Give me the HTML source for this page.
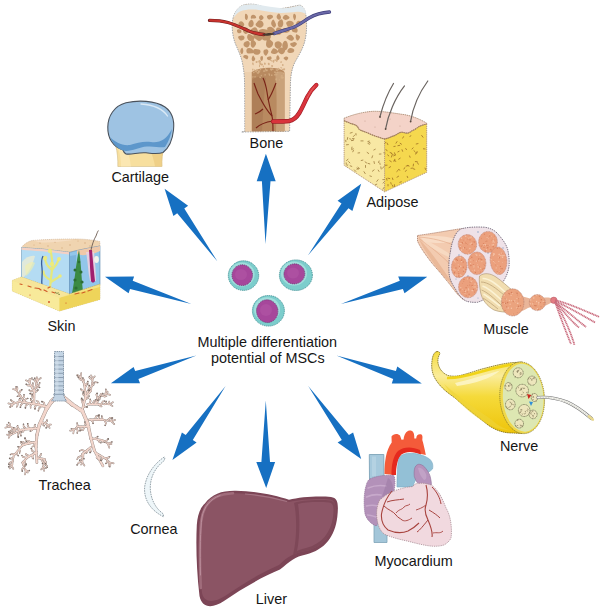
<!DOCTYPE html>
<html><head><meta charset="utf-8"><style>
html,body{margin:0;padding:0;background:#fff;}
svg{display:block;}
text{font-family:"Liberation Sans",sans-serif;font-size:14.4px;fill:#151515;}
</style></head><body>
<svg width="605" height="612" viewBox="0 0 605 612">
<g id="adipose">
<path fill="#f8e8a4" d="M344.1,120.7 C347,122 348.5,122.5 349.9,123.2 C352,124 354.5,124.2 356.5,125.7 C358.5,127 358,129 359.8,129.8 C363,131.5 365.5,132 368.1,133.1 C371,134.5 373.5,135.5 376.3,136.4 C379,137.3 382,138.5 384.6,138.9 C388,138.5 391.5,136.5 394.5,135.6 C397,134.5 399,132.5 401.1,132.3 C403.5,132 405.5,133.5 407.7,133.1 C410,132.5 412,130.5 414.3,129.8 C416.5,128.5 418.5,126.5 421,125.7 C423,125 425,124.3 426.7,124 L384.6,138.9 L384.6,191.8 L344.1,165.3 Z"/>
<path fill="#f5d84e" d="M384.6,138.9 C388,138.5 391.5,136.5 394.5,135.6 C397,134.5 399,132.5 401.1,132.3 C403.5,132 405.5,133.5 407.7,133.1 C410,132.5 412,130.5 414.3,129.8 C416.5,128.5 418.5,126.5 421,125.7 C423,125 425,124.3 426.7,124 L426.7,172.3 L384.6,191.8 Z"/>
<path fill="none" stroke="#a8884a" stroke-width="0.9" stroke-linecap="round" d="M362.9,160.1l-1.7,0.4M365.1,161.9l1.5,1.0M369.9,175.9l1.5,0.5M383.8,187.6l-0.9,1.6M352.5,138.5l1.7,0.2M365.5,165.5l0.0,1.9M363.1,140.9l-2.2,0.0M378.2,170.1l0.8,1.3M375.3,149.2l-1.5,0.8M382.8,179.6l1.5,0.0M381.0,154.0l-1.7,0.1M347.9,164.8l-1.2,1.0M348.4,144.6l-2.0,0.2M349.7,138.8l1.3,0.4M367.1,152.4l1.6,1.1M350.2,165.8l1.6,0.6M353.4,140.3l-2.0,0.2M353.3,148.8l-1.7,0.8M353.4,139.6l-1.2,1.1M348.6,161.6l1.3,1.3M359.7,152.8l-1.7,0.2M352.2,132.5l-2.0,0.6M354.9,134.9l-1.5,1.6M379.8,163.0l0.3,1.4M354.4,169.9l1.4,1.5M368.6,142.0l1.7,1.0M347.7,137.5l-0.4,2.0M369.3,141.1l-1.4,0.4M345.7,140.3l0.2,1.4M352.0,147.1l-0.3,1.4M383.7,166.7l-1.0,1.5M364.0,171.7l1.2,1.9M348.0,159.1l-1.4,1.6M374.1,169.9l-1.7,1.3M358.9,168.6l-2.0,0.6M379.1,161.0l-0.6,1.5M368.0,163.4l1.8,0.5M384.2,181.8l-1.1,1.3M374.0,161.5l0.4,2.0M346.2,162.9l0.1,1.5M372.6,155.8l-0.7,2.0M356.9,168.1l1.2,0.9M380.8,166.9l0.4,2.1M357.9,167.3l1.4,1.0M376.8,184.2l-1.5,0.6M368.0,143.5l1.6,0.7M378.1,179.7l-1.3,1.7M355.9,133.5l0.2,1.5M353.5,150.2l-0.7,1.6M383.8,152.8l1.3,0.3"/><path fill="none" stroke="#a87a28" stroke-width="0.9" stroke-linecap="round" d="M404.7,167.7l-0.7,1.3M385.9,149.4l1.3,1.5M413.5,164.1l-0.3,1.9M391.4,153.6l1.8,1.0M387.9,178.2l1.9,0.4M399.1,151.3l-1.2,0.6M388.0,184.5l-0.0,1.4M390.1,152.5l1.5,0.7M410.7,135.6l-0.8,1.1M392.4,178.0l0.5,1.6M409.6,156.0l0.5,1.3M425.0,168.1l0.7,1.5M413.4,168.8l1.4,0.5M400.2,158.2l-1.5,1.0M386.6,178.5l0.4,1.7M394.5,152.8l0.7,1.9M389.7,160.7l1.6,1.0M387.0,143.0l0.9,1.7M387.6,154.9l1.2,1.0M392.3,185.1l0.6,1.4M385.8,142.4l-1.2,1.1M387.1,165.2l-2.2,0.1M398.6,176.2l-1.6,1.0M394.8,159.3l0.1,1.9M421.7,135.5l1.3,1.7M406.4,170.2l-0.9,1.2M397.0,141.6l-1.0,1.6M390.8,182.6l0.4,1.5M408.2,165.6l-2.1,0.5M416.3,152.1l-0.6,2.0M417.5,162.7l0.8,1.5M415.3,161.6l1.9,0.1M407.2,176.3l0.5,1.3M399.8,145.3l-1.9,0.4M407.4,165.4l1.7,0.7M413.9,150.6l1.2,1.2M398.6,169.5l1.3,0.6M398.2,170.2l-1.4,1.3M423.4,148.8l1.7,0.2M403.5,136.7l-0.8,1.4M395.2,146.3l-1.3,0.2M400.1,143.2l1.4,1.0M394.4,184.7l-0.0,1.9M392.1,155.2l-0.7,1.9M395.6,154.9l-1.8,0.9M394.7,160.0l-1.2,1.1M412.8,168.1l-1.8,0.2M413.1,147.8l-1.1,1.2M405.7,148.5l0.8,1.2M394.6,160.4l1.0,1.0M418.0,143.6l-1.8,0.4M401.3,181.8l-1.5,0.5M390.6,166.7l-1.6,0.9M417.3,151.8l-0.6,1.4M402.0,149.7l0.6,1.6"/>
<path fill="#f4d3c8" stroke="#9a7a5e" stroke-width="0.75" stroke-dasharray="1.3,0.7" d="M344.1,118.2 C352,115 362,112 373,111.3 C384,111 395,113.5 404.4,114.6 C412,116 420,119 426.7,123.2 L426.7,124 C425,124.3 423,125 421,125.7 C418.5,126.5 416.5,128.5 414.3,129.8 C412,130.5 410,132.5 407.7,133.1 C405.5,133.5 403.5,132 401.1,132.3 C399,132.5 397,134.5 394.5,135.6 C391.5,136.5 388,138.5 384.6,138.9 C382,138.5 379,137.3 376.3,136.4 C373.5,135.5 371,134.5 368.1,133.1 C365.5,132 363,131.5 359.8,129.8 C358,129 358.5,127 356.5,125.7 C354.5,124.2 352,124 349.9,123.2 C348.5,122.5 347,122 344.1,120.7 Z"/>
<path fill="none" stroke="#a8876a" stroke-width="0.8" stroke-dasharray="1.3,0.8" d="M344.1,120.5 L344.1,165.3 L384.6,191.8 L426.7,172.3 L426.7,123.2 M384.6,138.9 L384.6,191.8"/>
<path fill="none" stroke="#a27e5a" stroke-width="1.1" stroke-dasharray="1.5,0.6" d="M344.1,120.7 C347,122 348.5,122.5 349.9,123.2 C352,124 354.5,124.2 356.5,125.7 C358.5,127 358,129 359.8,129.8 C363,131.5 365.5,132 368.1,133.1 C371,134.5 373.5,135.5 376.3,136.4 C379,137.3 382,138.5 384.6,138.9 C388,138.5 391.5,136.5 394.5,135.6 C397,134.5 399,132.5 401.1,132.3 C403.5,132 405.5,133.5 407.7,133.1 C410,132.5 412,130.5 414.3,129.8 C416.5,128.5 418.5,126.5 421,125.7 C423,125 425,124.3 426.7,124"/>
<g fill="#c9a598"><circle cx="365" cy="121" r="0.6"/><circle cx="390" cy="119" r="0.6"/><circle cx="400" cy="126" r="0.6"/><circle cx="375" cy="127" r="0.6"/></g>
<g fill="none" stroke="#6a6460" stroke-width="1.2" stroke-linecap="round">
<path d="M380,116.5 C383,105 387,94 393.5,83.5"/>
<path d="M385.6,128.8 C388,115 395,98 404.5,85.9"/>
<path d="M410.6,121.4 C413,107 419,93 427.8,81"/>
</g>
<g fill="#5a4a40"><circle cx="380" cy="117" r="0.9"/><circle cx="385.6" cy="129" r="0.9"/><circle cx="410.6" cy="121.6" r="0.9"/></g>
</g>
<g id="bone">
<path fill="#f1d7b8" stroke="#8c8f96" stroke-width="0.8" stroke-dasharray="1.5,1" d="M241.7,132 L244.8,131.3 C244.8,110 244.8,90 244.5,80 C244.3,74 243.5,68 242,61 C240.5,55 238,50 235.5,44 C233,38 232,30 232.2,24 C232.5,16 236,9 241.7,5.8 C246,3.8 250,3.9 255,4.4 C261,5.8 267,8.5 275,8.8 C284,9 292,6.5 299.5,5.1 C303,5.5 305.5,10 306.3,18 C307,28 306.5,36 304,44 C302,50 298.5,56 295,62 C292,68 290.8,75 290.5,82 C290.2,95 290,110 289.8,120 L289.6,131.3 Z"/>
<path fill="#e1eaef" d="M233.5,18 C235,11 238,7 243,5.2 C248,3.8 253,4 258,4.8 C266,6 274,7.6 282,8.2 C289,8.3 295,6.8 299.5,5.3 C303,6 305,9 306,14 C304,13 301,11.5 297,11.8 C292,12.3 287,13 281,13 C273,12.8 265,11 257,9.8 C251,9.2 245,9.5 240,11.5 C237,13 235,15.5 233.5,18 Z"/>
<!-- shaft shading -->
<path fill="#e9c9a5" opacity="0.6" d="M245,72 L251.7,72 L251.7,131.3 L245,131.3 Z"/>
<g fill="#c0946a"><path d="M245.8,19.7 Q244.9,18.9 244.9,17.6 Q244.9,16.2 245.0,14.9 Q245.1,13.6 245.9,13.8 Q246.7,14.0 247.2,14.7 Q247.7,15.4 247.9,16.6 Q248.0,17.9 247.4,19.2 Q246.7,20.5 245.8,19.7Z"/><path d="M254.8,15.2 Q255.7,15.8 256.1,17.1 Q256.5,18.4 255.0,18.4 Q253.5,18.3 252.1,18.6 Q250.7,18.9 250.8,17.6 Q250.8,16.3 251.5,15.6 Q252.1,14.9 253.0,14.8 Q253.9,14.7 254.8,15.2Z"/><path d="M259.0,17.4 Q259.1,16.3 260.1,15.5 Q261.1,14.7 262.1,15.4 Q263.1,16.1 263.4,16.9 Q263.8,17.6 263.4,18.4 Q263.0,19.3 261.8,19.9 Q260.6,20.4 259.8,19.5 Q258.9,18.5 259.0,17.4Z"/><path d="M269.8,19.4 Q268.5,19.8 267.8,18.8 Q267.1,17.9 266.9,16.8 Q266.7,15.8 267.9,15.2 Q269.2,14.6 270.8,14.8 Q272.5,14.9 272.9,16.1 Q273.4,17.4 272.3,18.1 Q271.2,18.9 269.8,19.4Z"/><path d="M278.3,13.8 Q279.1,13.1 279.6,14.1 Q280.2,15.1 280.8,16.2 Q281.4,17.4 280.7,18.7 Q280.0,20.0 278.9,19.7 Q277.8,19.4 277.0,18.3 Q276.2,17.1 276.8,15.8 Q277.5,14.5 278.3,13.8Z"/><path d="M283.4,19.1 Q282.2,18.0 283.0,16.9 Q283.7,15.8 285.0,15.1 Q286.2,14.4 287.2,15.2 Q288.1,16.0 289.1,16.8 Q290.1,17.6 289.1,18.6 Q288.2,19.5 286.4,19.8 Q284.7,20.2 283.4,19.1Z"/><path d="M293.3,14.9 Q293.6,13.6 294.4,13.8 Q295.2,14.1 295.7,15.0 Q296.1,15.9 296.0,17.0 Q295.8,18.1 295.3,19.5 Q294.8,21.0 294.1,19.7 Q293.5,18.5 293.2,17.3 Q292.9,16.2 293.3,14.9Z"/><path d="M239.3,26.7 Q238.1,25.6 238.4,24.0 Q238.7,22.5 240.0,21.6 Q241.4,20.8 242.5,21.7 Q243.6,22.7 244.1,23.7 Q244.6,24.7 243.9,25.7 Q243.2,26.6 241.8,27.2 Q240.4,27.8 239.3,26.7Z"/><path d="M252.5,26.6 Q251.3,27.5 249.9,27.0 Q248.5,26.5 248.4,24.7 Q248.2,22.8 249.0,21.9 Q249.8,20.9 250.9,20.1 Q251.9,19.4 252.8,20.7 Q253.7,21.9 253.7,23.8 Q253.8,25.6 252.5,26.6Z"/><path d="M255.9,23.6 Q256.8,22.5 258.0,21.0 Q259.2,19.6 261.1,20.6 Q263.0,21.7 263.5,23.5 Q264.0,25.4 262.4,26.7 Q260.8,28.1 258.9,27.5 Q257.0,27.0 256.0,25.8 Q255.1,24.6 255.9,23.6Z"/><path d="M273.1,27.1 Q272.1,26.0 271.5,24.9 Q270.9,23.7 271.3,22.3 Q271.7,20.9 272.5,19.9 Q273.4,19.0 274.1,20.3 Q274.8,21.6 275.7,23.5 Q276.6,25.4 275.4,26.8 Q274.2,28.3 273.1,27.1Z"/><path d="M280.3,27.6 Q278.8,27.8 278.0,25.4 Q277.2,23.1 278.4,21.4 Q279.5,19.7 280.8,19.4 Q282.1,19.0 282.7,20.5 Q283.3,22.1 283.3,23.5 Q283.2,25.0 282.5,26.2 Q281.8,27.5 280.3,27.6Z"/><path d="M293.8,23.3 Q294.0,24.8 292.6,25.5 Q291.2,26.3 289.5,26.7 Q287.9,27.2 287.3,26.0 Q286.7,24.9 286.2,23.8 Q285.8,22.6 287.4,21.5 Q289.1,20.4 291.3,21.1 Q293.6,21.8 293.8,23.3Z"/><path d="M301.1,24.7 Q300.0,25.5 298.5,25.8 Q297.0,26.1 296.4,25.1 Q295.8,24.0 296.1,23.2 Q296.3,22.3 297.2,21.4 Q298.1,20.5 299.8,20.9 Q301.4,21.2 301.8,22.6 Q302.2,23.9 301.1,24.7Z"/><path d="M240.3,33.1 Q239.0,33.4 238.2,32.9 Q237.4,32.4 237.1,31.7 Q236.9,31.0 237.1,30.1 Q237.4,29.3 238.3,29.2 Q239.3,29.1 240.3,29.6 Q241.4,30.1 241.5,31.4 Q241.6,32.8 240.3,33.1Z"/><path d="M247.9,28.8 Q248.3,30.5 248.2,31.7 Q248.0,33.0 247.0,33.6 Q246.0,34.2 245.0,33.7 Q244.0,33.2 243.3,31.9 Q242.5,30.7 243.2,28.9 Q243.9,27.2 245.6,27.2 Q247.4,27.1 247.9,28.8Z"/><path d="M258.2,31.5 Q258.8,33.3 256.7,34.3 Q254.7,35.3 252.6,34.7 Q250.4,34.0 250.1,32.3 Q249.7,30.5 250.9,29.5 Q252.1,28.4 253.8,27.5 Q255.5,26.6 256.5,28.1 Q257.6,29.7 258.2,31.5Z"/><path d="M260.0,33.9 Q257.5,33.8 258.1,32.2 Q258.6,30.6 259.8,29.8 Q261.1,28.9 262.8,28.9 Q264.6,29.0 267.0,29.8 Q269.4,30.6 268.5,32.4 Q267.5,34.3 264.9,34.2 Q262.4,34.1 260.0,33.9Z"/><path d="M270.2,34.6 Q268.7,33.9 268.2,32.7 Q267.7,31.5 267.2,29.3 Q266.7,27.1 269.1,26.9 Q271.5,26.7 273.1,28.0 Q274.7,29.3 275.4,31.4 Q276.1,33.6 273.9,34.4 Q271.8,35.3 270.2,34.6Z"/><path d="M280.1,34.4 Q278.7,35.1 277.1,34.7 Q275.5,34.3 275.6,32.2 Q275.6,30.2 276.4,28.6 Q277.2,27.0 278.6,27.5 Q280.0,27.9 281.8,28.9 Q283.6,29.8 282.5,31.8 Q281.4,33.8 280.1,34.4Z"/><path d="M283.6,32.5 Q281.8,32.3 281.6,30.9 Q281.5,29.5 283.0,28.5 Q284.6,27.6 286.2,28.3 Q287.7,29.0 289.1,29.8 Q290.4,30.6 289.4,31.6 Q288.4,32.6 286.9,32.7 Q285.4,32.8 283.6,32.5Z"/><path d="M293.2,28.1 Q294.2,27.4 295.5,27.6 Q296.8,27.8 297.4,29.0 Q298.0,30.3 297.4,31.7 Q296.8,33.1 295.4,32.6 Q293.9,32.2 292.7,31.7 Q291.5,31.3 291.9,30.1 Q292.3,28.8 293.2,28.1Z"/><path d="M238.2,37.8 Q237.6,36.6 239.1,36.0 Q240.6,35.4 242.1,35.5 Q243.6,35.5 244.2,36.6 Q244.9,37.7 244.3,38.7 Q243.8,39.8 242.4,40.3 Q240.9,40.8 239.8,39.9 Q238.8,39.1 238.2,37.8Z"/><path d="M247.6,35.0 Q248.2,33.4 250.2,34.3 Q252.1,35.2 253.4,36.1 Q254.7,37.0 254.4,38.7 Q254.1,40.3 251.8,40.8 Q249.4,41.2 248.3,39.9 Q247.2,38.6 247.1,37.6 Q247.0,36.6 247.6,35.0Z"/><path d="M263.0,36.7 Q262.8,38.8 261.0,40.2 Q259.1,41.6 257.4,40.3 Q255.7,39.0 254.1,37.8 Q252.6,36.7 253.7,35.0 Q254.7,33.3 256.7,33.6 Q258.7,33.9 260.9,34.2 Q263.2,34.6 263.0,36.7Z"/><path d="M264.5,40.5 Q262.1,40.6 261.9,38.1 Q261.6,35.5 263.6,34.7 Q265.6,33.8 267.2,33.5 Q268.9,33.1 270.1,34.6 Q271.4,36.1 270.7,37.8 Q269.9,39.6 268.4,40.0 Q266.8,40.5 264.5,40.5Z"/><path d="M293.8,37.7 Q294.6,39.0 292.9,40.2 Q291.3,41.3 289.5,40.3 Q287.8,39.3 286.8,38.5 Q285.9,37.7 286.8,36.9 Q287.7,36.1 289.1,35.1 Q290.6,34.2 291.8,35.3 Q293.0,36.4 293.8,37.7Z"/><path d="M297.0,34.5 Q298.0,35.1 299.2,35.7 Q300.4,36.3 299.9,37.8 Q299.3,39.3 298.3,40.2 Q297.3,41.0 296.6,39.9 Q295.9,38.7 295.7,37.8 Q295.6,36.8 295.8,35.4 Q296.0,34.0 297.0,34.5Z"/><path d="M249.7,44.5 Q249.4,45.5 248.5,46.8 Q247.6,48.1 245.9,47.3 Q244.2,46.5 243.7,45.4 Q243.2,44.2 243.9,43.0 Q244.5,41.9 246.5,41.3 Q248.5,40.7 249.3,42.1 Q250.1,43.5 249.7,44.5Z"/><path d="M255.8,44.8 Q255.0,46.3 254.1,47.2 Q253.2,48.0 252.1,47.4 Q251.0,46.8 250.7,45.0 Q250.5,43.3 251.0,41.2 Q251.6,39.1 253.1,39.8 Q254.5,40.6 255.5,41.9 Q256.5,43.2 255.8,44.8Z"/><path d="M266.0,44.3 Q266.2,41.9 267.0,39.6 Q267.9,37.3 269.4,38.8 Q270.8,40.3 272.3,41.5 Q273.8,42.6 272.9,44.7 Q272.0,46.7 270.6,47.6 Q269.2,48.4 267.5,47.6 Q265.8,46.8 266.0,44.3Z"/><path d="M280.9,42.5 Q282.5,43.6 281.7,45.7 Q280.9,47.9 279.1,48.5 Q277.3,49.2 276.0,47.8 Q274.7,46.5 274.6,44.7 Q274.5,42.9 275.7,42.1 Q276.9,41.3 278.1,41.3 Q279.3,41.4 280.9,42.5Z"/><path d="M287.7,47.5 Q287.2,49.9 285.5,50.2 Q283.8,50.5 282.8,48.4 Q281.8,46.4 282.4,44.3 Q282.9,42.3 283.9,41.4 Q284.9,40.5 286.0,41.1 Q287.1,41.6 287.6,43.4 Q288.2,45.2 287.7,47.5Z"/><path d="M296.1,42.7 Q297.4,43.5 296.7,44.4 Q296.0,45.4 294.7,46.5 Q293.4,47.6 292.0,46.6 Q290.6,45.6 290.2,44.6 Q289.7,43.6 290.9,43.1 Q292.1,42.6 293.5,42.2 Q294.9,41.9 296.1,42.7Z"/><path d="M240.4,52.2 Q240.1,50.9 240.5,49.8 Q241.0,48.7 241.7,48.1 Q242.5,47.4 242.9,48.7 Q243.3,49.9 243.3,51.1 Q243.3,52.2 242.8,53.3 Q242.3,54.4 241.5,53.9 Q240.8,53.5 240.4,52.2Z"/><path d="M246.7,49.2 Q247.5,47.8 249.4,48.0 Q251.3,48.3 252.3,49.2 Q253.3,50.1 253.9,51.6 Q254.6,53.2 252.6,53.3 Q250.6,53.4 248.8,53.5 Q247.1,53.6 246.6,52.2 Q246.0,50.7 246.7,49.2Z"/><path d="M253.2,50.4 Q253.9,48.9 255.7,49.1 Q257.4,49.3 258.9,49.6 Q260.4,49.9 260.5,51.3 Q260.6,52.6 259.6,53.8 Q258.6,55.1 256.6,54.8 Q254.6,54.6 253.5,53.3 Q252.5,51.9 253.2,50.4Z"/><path d="M264.3,49.7 Q265.5,49.2 266.4,49.2 Q267.3,49.1 268.0,50.2 Q268.8,51.2 268.2,52.4 Q267.7,53.6 266.8,55.0 Q265.8,56.4 264.7,55.1 Q263.6,53.9 263.4,52.1 Q263.2,50.3 264.3,49.7Z"/><path d="M277.6,50.4 Q278.9,51.4 277.7,52.5 Q276.6,53.7 275.0,53.9 Q273.3,54.2 271.8,53.5 Q270.3,52.7 271.1,51.5 Q271.8,50.4 272.6,49.1 Q273.3,47.9 274.8,48.6 Q276.3,49.4 277.6,50.4Z"/><path d="M283.8,53.3 Q282.6,54.6 280.7,53.9 Q278.9,53.2 278.2,52.0 Q277.6,50.8 278.1,49.6 Q278.6,48.3 280.2,47.7 Q281.9,47.1 283.6,48.0 Q285.2,48.8 285.1,50.4 Q285.1,51.9 283.8,53.3Z"/><path d="M292.0,52.8 Q290.2,53.1 288.6,52.7 Q287.0,52.3 287.4,51.1 Q287.7,49.8 288.4,49.1 Q289.2,48.3 290.5,48.1 Q291.8,48.0 293.2,48.8 Q294.7,49.6 294.2,51.1 Q293.7,52.6 292.0,52.8Z"/><path d="M247.7,58.7 Q247.2,59.6 246.0,58.9 Q244.9,58.3 243.9,57.8 Q243.0,57.4 243.2,56.4 Q243.4,55.5 244.9,55.1 Q246.4,54.6 247.4,55.4 Q248.4,56.2 248.3,57.0 Q248.3,57.8 247.7,58.7Z"/><path d="M251.7,58.4 Q251.9,57.2 252.5,56.2 Q253.0,55.1 253.7,56.1 Q254.3,57.1 254.9,57.9 Q255.6,58.7 255.0,59.7 Q254.4,60.7 253.6,61.2 Q252.8,61.7 252.2,60.7 Q251.6,59.6 251.7,58.4Z"/><path d="M263.0,57.5 Q263.1,58.9 262.6,59.9 Q262.2,60.8 261.6,60.8 Q260.9,60.7 260.6,59.9 Q260.3,59.1 260.3,58.0 Q260.3,57.0 260.8,56.5 Q261.4,55.9 262.2,56.0 Q262.9,56.0 263.0,57.5Z"/><path d="M271.5,58.8 Q271.2,59.6 270.0,60.1 Q268.7,60.5 267.9,59.8 Q267.1,59.1 266.9,58.4 Q266.7,57.7 267.4,57.2 Q268.1,56.6 269.5,56.4 Q270.8,56.1 271.3,57.0 Q271.8,57.9 271.5,58.8Z"/><path d="M279.4,57.6 Q279.9,58.7 279.1,59.4 Q278.3,60.0 277.4,60.5 Q276.5,60.9 276.4,59.5 Q276.2,58.0 276.4,57.0 Q276.6,56.0 277.2,55.4 Q277.9,54.8 278.4,55.6 Q278.9,56.4 279.4,57.6Z"/><path d="M285.8,56.5 Q286.9,56.1 287.7,57.0 Q288.6,57.8 288.1,58.8 Q287.7,59.7 286.8,60.3 Q285.9,60.8 285.2,60.1 Q284.6,59.5 283.9,58.8 Q283.1,58.2 283.9,57.5 Q284.7,56.8 285.8,56.5Z"/></g>
<!-- medullary cavity -->
<path fill="#b88a60" d="M251.7,131.3 L251.7,72 C258,68 266,67 274,68 C279,68.5 283,70 284.5,72 L284.5,131.3 Z"/>
<path fill="#c9a27a" d="M275,72 C279,71 283,71.5 284.5,73 L284.5,131.3 L276,131.3 C277,110 277,90 275,72 Z"/>
<path fill="#a97b55" d="M252,80 C256,76 262,76 266,78 C264,95 263,115 262,131.3 L252,131.3 Z" opacity="0.7"/>
<g fill="#d3ad84"><path d="M259.0,70.9 Q259.0,70.5 259.4,70.4 Q259.8,70.3 260.4,70.6 Q260.9,70.9 260.4,71.3 Q259.9,71.6 259.4,71.5 Q258.9,71.3 259.0,70.9Z"/><path d="M283.2,70.2 Q282.8,69.5 283.0,68.9 Q283.1,68.2 284.2,68.2 Q285.2,68.3 285.2,69.1 Q285.2,70.0 284.4,70.4 Q283.6,70.9 283.2,70.2Z"/><path d="M273.7,62.7 Q273.1,63.1 272.9,62.2 Q272.6,61.3 272.9,60.4 Q273.2,59.6 273.8,59.9 Q274.4,60.2 274.4,61.2 Q274.3,62.3 273.7,62.7Z"/><path d="M281.8,67.4 Q282.3,67.6 282.2,68.0 Q282.1,68.4 281.5,68.5 Q281.0,68.5 280.4,68.1 Q279.9,67.6 280.6,67.3 Q281.4,67.1 281.8,67.4Z"/><path d="M272.1,66.9 Q271.4,66.8 271.1,66.2 Q270.8,65.6 271.4,65.3 Q272.1,64.9 272.7,65.3 Q273.4,65.6 273.1,66.3 Q272.8,67.0 272.1,66.9Z"/><path d="M283.8,72.7 Q284.6,72.8 284.6,73.2 Q284.7,73.7 284.2,73.9 Q283.6,74.2 283.3,73.9 Q282.9,73.6 283.0,73.1 Q283.0,72.7 283.8,72.7Z"/><path d="M279.2,79.3 Q279.5,79.2 279.7,79.5 Q280.0,79.8 279.8,80.3 Q279.6,80.7 279.1,80.6 Q278.6,80.4 278.7,79.9 Q278.9,79.5 279.2,79.3Z"/><path d="M271.8,60.3 Q272.5,60.4 272.8,60.9 Q273.1,61.4 272.3,61.5 Q271.5,61.6 271.1,61.3 Q270.8,61.0 271.0,60.6 Q271.1,60.1 271.8,60.3Z"/><path d="M253.7,64.6 Q253.6,65.6 253.1,65.3 Q252.5,65.0 252.2,64.1 Q251.9,63.2 252.5,62.6 Q253.0,62.0 253.4,62.8 Q253.8,63.6 253.7,64.6Z"/><path d="M265.6,70.5 Q265.6,69.7 266.4,69.3 Q267.2,68.9 267.6,69.6 Q268.0,70.4 267.6,70.9 Q267.1,71.5 266.4,71.3 Q265.6,71.2 265.6,70.5Z"/><path d="M259.0,66.5 Q258.8,65.6 259.2,65.0 Q259.6,64.5 259.9,65.1 Q260.1,65.7 260.1,66.5 Q260.1,67.3 259.6,67.3 Q259.1,67.3 259.0,66.5Z"/><path d="M253.1,72.0 Q253.4,71.4 254.1,71.5 Q254.8,71.6 254.6,72.3 Q254.5,72.9 254.2,73.1 Q253.8,73.3 253.3,73.0 Q252.8,72.7 253.1,72.0Z"/><path d="M283.0,65.9 Q282.4,66.0 282.1,65.4 Q281.8,64.9 282.2,64.3 Q282.6,63.7 283.1,64.1 Q283.7,64.5 283.6,65.2 Q283.6,65.8 283.0,65.9Z"/><path d="M277.0,61.9 Q276.2,62.2 276.0,61.3 Q275.8,60.5 276.2,59.9 Q276.5,59.4 277.1,59.6 Q277.6,59.8 277.6,60.7 Q277.7,61.6 277.0,61.9Z"/><path d="M279.5,69.4 Q279.4,70.2 278.5,70.2 Q277.6,70.2 277.6,69.2 Q277.6,68.2 278.2,67.9 Q278.8,67.6 279.2,68.1 Q279.6,68.6 279.5,69.4Z"/><path d="M269.7,64.6 Q269.5,65.5 268.8,65.2 Q268.0,64.9 267.8,63.9 Q267.7,62.9 268.4,62.7 Q269.2,62.5 269.5,63.1 Q269.8,63.7 269.7,64.6Z"/><path d="M261.3,76.5 Q260.9,76.6 260.7,76.1 Q260.6,75.6 260.9,75.1 Q261.3,74.6 261.6,75.1 Q262.0,75.6 261.8,76.0 Q261.7,76.4 261.3,76.5Z"/><path d="M281.2,78.6 Q280.0,78.2 280.6,77.6 Q281.2,76.9 282.2,76.6 Q283.3,76.4 283.8,77.1 Q284.4,77.9 283.4,78.4 Q282.4,78.9 281.2,78.6Z"/><path d="M259.1,60.2 Q259.6,59.9 259.9,60.7 Q260.1,61.4 259.8,62.2 Q259.5,62.9 259.0,62.5 Q258.5,62.2 258.5,61.3 Q258.6,60.4 259.1,60.2Z"/><path d="M270.6,60.8 Q270.2,61.0 269.9,60.6 Q269.6,60.3 269.9,59.8 Q270.1,59.3 270.7,59.5 Q271.3,59.8 271.2,60.2 Q271.1,60.7 270.6,60.8Z"/><path d="M259.6,76.4 Q260.2,76.3 260.7,76.7 Q261.1,77.1 260.8,77.8 Q260.6,78.5 260.0,78.2 Q259.5,77.8 259.3,77.2 Q259.0,76.5 259.6,76.4Z"/><path d="M282.7,75.6 Q283.3,76.2 282.5,76.6 Q281.8,77.0 281.1,76.8 Q280.5,76.7 280.5,76.1 Q280.6,75.5 281.3,75.2 Q282.0,74.9 282.7,75.6Z"/><path d="M266.1,68.5 Q266.3,69.5 266.0,70.1 Q265.8,70.7 265.4,70.4 Q265.0,70.1 264.7,69.1 Q264.4,68.1 265.2,67.8 Q265.9,67.4 266.1,68.5Z"/><path d="M254.9,70.9 Q254.4,71.1 254.1,70.5 Q253.8,69.9 254.2,69.5 Q254.6,69.1 255.0,69.4 Q255.3,69.6 255.3,70.1 Q255.3,70.6 254.9,70.9Z"/><path d="M255.9,72.2 Q255.4,72.0 255.3,71.2 Q255.2,70.4 255.7,69.9 Q256.2,69.4 256.7,70.1 Q257.2,70.9 256.8,71.7 Q256.4,72.4 255.9,72.2Z"/><path d="M277.4,73.3 Q276.8,73.3 276.8,72.7 Q276.8,72.0 277.3,71.7 Q277.8,71.3 278.2,71.8 Q278.6,72.3 278.3,72.7 Q278.0,73.2 277.4,73.3Z"/><path d="M268.8,74.6 Q268.3,74.4 268.4,73.8 Q268.5,73.2 269.0,73.2 Q269.4,73.3 269.8,73.7 Q270.1,74.1 269.7,74.4 Q269.3,74.8 268.8,74.6Z"/><path d="M260.3,68.6 Q260.8,68.4 261.1,68.9 Q261.4,69.4 261.0,69.7 Q260.6,70.1 260.1,69.9 Q259.5,69.7 259.6,69.3 Q259.7,68.8 260.3,68.6Z"/><path d="M255.8,71.8 Q255.6,72.1 255.3,72.1 Q255.0,72.1 254.9,71.9 Q254.7,71.6 255.0,71.3 Q255.3,71.0 255.6,71.3 Q255.9,71.6 255.8,71.8Z"/><path d="M252.9,76.3 Q253.3,76.1 253.6,76.6 Q253.8,77.1 253.3,77.3 Q252.8,77.6 252.3,77.4 Q251.8,77.1 252.1,76.8 Q252.4,76.4 252.9,76.3Z"/><path d="M278.0,70.3 Q278.0,71.1 277.1,71.1 Q276.2,71.0 275.8,70.6 Q275.3,70.2 275.7,69.6 Q276.2,69.1 277.1,69.3 Q278.0,69.5 278.0,70.3Z"/><path d="M271.7,76.0 Q271.1,75.8 271.0,75.2 Q270.9,74.7 271.3,74.5 Q271.8,74.3 272.2,74.6 Q272.7,74.9 272.5,75.6 Q272.3,76.3 271.7,76.0Z"/><path d="M264.4,74.6 Q264.8,74.2 265.4,74.3 Q265.9,74.5 266.0,74.9 Q266.0,75.3 265.5,75.5 Q265.0,75.7 264.5,75.4 Q264.0,75.0 264.4,74.6Z"/><path d="M255.7,62.5 Q255.2,61.7 255.9,61.3 Q256.6,60.8 257.2,61.0 Q257.8,61.3 257.7,62.0 Q257.6,62.7 256.9,63.0 Q256.2,63.3 255.7,62.5Z"/><path d="M262.4,65.5 Q261.6,65.8 260.9,65.3 Q260.1,64.7 260.8,64.0 Q261.5,63.3 262.3,63.6 Q263.1,64.0 263.1,64.6 Q263.1,65.2 262.4,65.5Z"/><path d="M253.4,69.9 Q253.1,70.4 252.5,70.5 Q252.0,70.5 252.0,69.9 Q252.1,69.2 252.5,68.7 Q252.9,68.2 253.3,68.8 Q253.6,69.4 253.4,69.9Z"/><path d="M270.9,68.2 Q271.8,68.2 272.3,68.9 Q272.8,69.6 272.1,70.3 Q271.5,71.0 270.8,70.5 Q270.0,69.9 270.0,69.1 Q270.0,68.3 270.9,68.2Z"/><path d="M283.2,69.9 Q282.8,70.2 282.2,70.0 Q281.5,69.8 281.7,69.2 Q281.9,68.6 282.5,68.7 Q283.1,68.8 283.3,69.1 Q283.5,69.5 283.2,69.9Z"/><path d="M260.8,62.6 Q261.5,62.6 261.3,63.6 Q261.1,64.5 260.5,64.9 Q259.9,65.2 259.4,64.5 Q258.9,63.8 259.4,63.2 Q260.0,62.7 260.8,62.6Z"/><path d="M254.9,77.4 Q254.3,77.5 254.3,77.0 Q254.4,76.5 254.7,76.2 Q255.0,75.9 255.4,76.2 Q255.9,76.4 255.7,76.9 Q255.5,77.4 254.9,77.4Z"/><path d="M258.6,72.9 Q257.9,72.4 257.8,71.7 Q257.7,71.1 258.4,70.6 Q259.1,70.2 259.5,70.9 Q259.8,71.6 259.6,72.5 Q259.4,73.4 258.6,72.9Z"/><path d="M280.7,61.4 Q281.2,61.2 281.8,61.5 Q282.3,61.8 282.0,62.3 Q281.7,62.8 280.9,62.8 Q280.1,62.7 280.2,62.2 Q280.2,61.6 280.7,61.4Z"/><path d="M275.4,79.7 Q275.2,78.9 275.6,78.4 Q276.1,77.9 276.6,78.2 Q277.2,78.5 277.0,79.5 Q276.9,80.5 276.2,80.6 Q275.6,80.6 275.4,79.7Z"/><path d="M258.8,73.4 Q258.5,73.9 257.8,73.7 Q257.1,73.4 256.6,72.9 Q256.2,72.3 257.1,72.2 Q258.0,72.2 258.6,72.5 Q259.1,72.8 258.8,73.4Z"/><path d="M274.1,71.8 Q274.5,71.1 275.0,71.2 Q275.6,71.2 275.7,71.7 Q275.8,72.2 275.4,72.7 Q275.1,73.3 274.4,72.8 Q273.8,72.4 274.1,71.8Z"/><path d="M269.8,75.7 Q269.3,76.1 269.0,75.5 Q268.8,74.9 268.8,74.4 Q268.9,73.9 269.4,74.0 Q269.9,74.1 270.1,74.7 Q270.4,75.3 269.8,75.7Z"/><path d="M263.1,65.7 Q263.5,65.2 263.8,65.8 Q264.1,66.5 263.9,67.0 Q263.7,67.6 263.3,67.4 Q262.8,67.3 262.7,66.8 Q262.6,66.3 263.1,65.7Z"/><path d="M277.4,75.0 Q277.3,75.5 276.7,75.4 Q276.2,75.2 276.1,74.6 Q276.1,74.0 276.6,73.8 Q277.1,73.6 277.3,74.1 Q277.5,74.5 277.4,75.0Z"/><path d="M265.6,64.6 Q265.1,65.4 264.7,64.9 Q264.2,64.4 264.0,63.7 Q263.8,62.9 264.5,62.6 Q265.2,62.3 265.6,63.1 Q266.1,63.9 265.6,64.6Z"/><path d="M263.0,70.9 Q263.2,70.3 264.0,70.3 Q264.9,70.4 265.5,70.8 Q266.0,71.3 265.2,71.6 Q264.4,72.0 263.6,71.7 Q262.8,71.5 263.0,70.9Z"/><path d="M274.5,60.7 Q274.1,60.1 274.5,59.6 Q274.9,59.2 275.6,59.2 Q276.2,59.3 276.1,59.9 Q276.0,60.5 275.5,60.9 Q274.9,61.2 274.5,60.7Z"/><path d="M273.2,68.4 Q273.7,68.7 273.6,69.3 Q273.6,69.9 272.7,69.8 Q271.7,69.7 271.8,69.2 Q271.8,68.6 272.3,68.3 Q272.7,68.0 273.2,68.4Z"/><path d="M259.8,62.7 Q258.6,62.8 258.4,62.1 Q258.2,61.4 258.7,60.7 Q259.1,60.1 260.1,60.5 Q261.1,60.9 261.1,61.8 Q261.1,62.7 259.8,62.7Z"/><path d="M274.8,74.1 Q275.4,73.9 275.7,74.3 Q276.0,74.8 275.7,75.3 Q275.3,75.7 274.6,75.5 Q273.9,75.2 274.1,74.8 Q274.2,74.4 274.8,74.1Z"/><path d="M256.2,70.3 Q255.8,69.6 256.5,69.2 Q257.1,68.8 257.6,69.1 Q258.2,69.5 258.2,70.3 Q258.1,71.1 257.3,71.1 Q256.6,71.0 256.2,70.3Z"/></g>
<!-- inner vessels -->
<g fill="none" stroke="#7a2418" stroke-width="1.15">
<path d="M273,131 C273,125 273,121 272,116 C270,108 268,100 267,92 C266,86 265,82 263,78"/>
<path d="M272,116 C266,110 262,102 258,94 C256,89 255,86 254,83"/>
<path d="M268,100 C272,94 274,88 276,83"/>
<path d="M273,121 C266,122 260,124 256,128"/>
<path d="M263,109 C260,112 257,113 255,114"/>
</g>
<!-- outer artery -->
<path fill="none" stroke="#9e1e26" stroke-width="4.4" stroke-linecap="round" d="M316.3,85 C312.5,88.5 309.5,92.5 307.3,97 C304.8,102 302.3,108 299.3,113 C296.5,117.5 293.5,120.3 289,121 C283,121.6 278,121.5 273,121.5"/>
<path fill="none" stroke="#d9333c" stroke-width="3.2" stroke-linecap="round" d="M316.3,85 C312.5,88.5 309.5,92.5 307.3,97 C304.8,102 302.3,108 299.3,113 C296.5,117.5 293.5,120.3 289,121 C283,121.6 278,121.5 273,121.5"/>
<path fill="none" stroke="#e8706a" stroke-width="0.8" d="M314.5,86.5 C311.5,90 309,94 307,98.5"/>
<!-- top vessels -->
<path fill="none" stroke="#6e1e1e" stroke-width="3.3" stroke-linecap="round" d="M209.5,20.4 C216,20.5 222,21 228,22.5 C236,25 243,28.5 250,31.5 C256,33.5 260,34.5 264,34.5"/>
<path fill="none" stroke="#c8332e" stroke-width="2.2" stroke-linecap="round" d="M210,20.4 C216,20.5 222,21 228,22.5 C236,25 243,28.5 250,31.5 C256,33.5 260,34.5 264,34.5"/>
<path fill="none" stroke="#3e3e7a" stroke-width="3.3" stroke-linecap="round" d="M274,33.6 C280,31.5 287,29.5 293,27.5 C299,25 304,21 309,18 C315,14.5 322,12.5 329.5,12"/>
<path fill="none" stroke="#6a68a8" stroke-width="2.2" stroke-linecap="round" d="M274,33.6 C280,31.5 287,29.5 293,27.5 C299,25 304,21 309,18 C315,14.5 322,12.5 329.5,12"/>
<path fill="#4a3a30" d="M262,34.5 C266,33 271,32.5 275,33.6 C272,36 266,36.5 262,34.5 Z"/>
</g>
<g id="cartilage">
<path fill="#f7df9e" stroke="#c8b27a" stroke-width="0.5" d="M115.5,145 C117.5,152 118,160 117.8,166.5 L161.8,166.5 C161.5,160 162,153 164.5,146 Z"/>
<path fill="#fbe8b6" d="M118,148 C120,154 121,160 121,166.5 L131,166.5 C130,158 128,152 126,148 Z" opacity="0.8"/>
<path fill="#e9c77a" d="M150,148 C152,155 154,160 155,166.5 L162.4,166.5 C162,160 162.5,153 165,146 Z" opacity="0.6"/>
<path fill="#9ec3e3" stroke="#4a525c" stroke-width="1.1" d="M123,150 C113,147 107.5,138 107.8,127 C108,116 114,106 126,102.8 C138,100 155,100.5 165,107 C172,112 174.5,121 173.5,130 C172.5,140 169,148 163,152.5 C158,154.5 152,153.5 146,152.8 C138,152 132,155 126,154 C124,153 123.5,151.5 123,150 Z"/>
<path fill="#5d97cb" d="M110,137 C114,146 119,150 126,151 C133,151 139,147 147,146.5 C155,146 160,148 165,147 C169,141 171,135 172,129 C166,140 160,143 151,142 C143,141 137,143 130,145 C122,146 115,142 110,137 Z"/>
<path fill="none" stroke="#dbe9f5" stroke-width="1.3" stroke-linecap="round" d="M141,104 C154,105 163,109 167.5,116"/>
</g>
<g id="cells">
<g>
<ellipse cx="243.5" cy="275.6" rx="15.2" ry="14.8" fill="#7ccdcc" stroke="#3f8e94" stroke-width="0.9" stroke-dasharray="1.2,0.8"/>
<ellipse cx="242" cy="274.5" rx="12.6" ry="12" fill="#b0e5e3" opacity="0.7"/>
<ellipse cx="242.2" cy="275.2" rx="10.3" ry="10.4" fill="#a6479b" stroke="#6e2d6c" stroke-width="0.7" stroke-dasharray="1.2,0.8" transform="rotate(-10 242 275)"/>
<ellipse cx="241" cy="274.5" rx="6" ry="5.5" fill="#b45aa8" opacity="0.5"/>
</g>
<g>
<ellipse cx="295.9" cy="275.2" rx="16.5" ry="15.3" fill="#7ccdcc" stroke="#3f8e94" stroke-width="0.9" stroke-dasharray="1.2,0.8"/>
<ellipse cx="294" cy="273.5" rx="13" ry="12" fill="#b0e5e3" opacity="0.7"/>
<ellipse cx="294.4" cy="274" rx="10.5" ry="10" fill="#a6479b" stroke="#6e2d6c" stroke-width="0.7" stroke-dasharray="1.2,0.8" transform="rotate(-15 294 274)"/>
<ellipse cx="293" cy="273" rx="6" ry="5.5" fill="#b45aa8" opacity="0.5"/>
</g>
<g>
<ellipse cx="268.4" cy="310.8" rx="16" ry="15.3" fill="#7ccdcc" stroke="#3f8e94" stroke-width="0.9" stroke-dasharray="1.2,0.8"/>
<ellipse cx="267" cy="309.5" rx="13" ry="12.3" fill="#b0e5e3" opacity="0.7"/>
<ellipse cx="267.2" cy="311.2" rx="10.7" ry="11.4" fill="#a6479b" stroke="#6e2d6c" stroke-width="0.7" stroke-dasharray="1.2,0.8" transform="rotate(-10 267 311)"/>
<ellipse cx="266" cy="310" rx="6" ry="6" fill="#b45aa8" opacity="0.5"/>
</g>
</g>
<g id="cornea">
<path fill="#eef6f9" stroke="#7c8c94" stroke-width="0.8" stroke-dasharray="1.6,0.9" d="M164.3,457 C155,463 146.5,474 144.7,486.6 C143.5,499 150,510 163.6,516.8 L163.2,513.8 C155,508 150.2,498 150.3,487 C150.5,476 156,467 163.4,461.4 C164.6,460 165.3,458 164.3,457 Z"/>
</g>
<g id="heart">
<!-- inferior vena cava -->
<path fill="#a3c6d9" stroke="#7da3b8" stroke-width="0.8" d="M374,520 L387,520 L387,542.5 L374,542.5 Z"/>
<!-- superior vena cava -->
<path fill="#a6c9dc" stroke="#7ea4b9" stroke-width="0.9" d="M369.3,454.5 L383.8,454.5 L384,480 L369.5,480 Z"/>
<path fill="#c2dbe8" d="M372,456.5 L376,456.5 L376,476 L372,476 Z" opacity="0.5"/>
<!-- aorta -->
<path fill="#f45b3a" d="M384.5,474 C384.5,462 386,450 391.7,442.5 L391.5,436.5 C393,433.5 398,433 400,435.5 L401.5,439.8 L403.6,439.5 C404,435 406,431 409.6,430.6 C413,430.5 414.5,433 414.3,438.5 L416.2,438.5 C416.5,435 418,434 420.8,434.3 C423,435 422.5,438 422.3,440 C423.5,444 424.5,448 425.8,455 L416.9,453 C411,450 405,450.5 400,454.4 C396.5,458 395,466 394.6,475 Z"/>
<path fill="#e5291e" d="M391.5,475 C391.5,465 393,456 398,451 C404,446.5 412,446.5 420,450 L421,454.5 C413,451 406,451 401.5,454.5 C397.5,459 396,467 396,475 Z"/>
<!-- pulmonary artery -->
<path fill="#93c0d6" stroke="#7aa9c2" stroke-width="0.6" d="M397,487 C397,478 397.2,467 398.5,460 C400,455 404,453.5 409,453.3 C416,453 424,455 429.5,459 C433,462 433.2,466 432.5,469 C430,472 425,474 420,476 C416,478.5 414,482 413,487 Z"/>
<!-- right atrium -->
<path fill="#b391b9" stroke="#8f6e97" stroke-width="0.7" stroke-dasharray="1.2,0.8" d="M370,479 C375,476 388,474.5 394,475.5 C395.5,480 395,486 394,491 C388,494 382,497 379.5,502 C376.5,510 376.5,518 378,523 L376.5,526 C371,524 367,520 365,514 C363.5,504 364,492 366,486 C367,482 368,480 370,479 Z"/>
<g fill="none" stroke="#cdb0d0" stroke-width="1.6" stroke-linecap="round" opacity="0.8"><path d="M368,488 C373,486 380,485 386,486"/><path d="M366.5,497 C371,495 376,494 381,495"/><path d="M366.5,506 C370,505 374,505 378,506"/><path d="M367.5,515 C370,515 373,516 376,517"/></g>
<path fill="#9a78a2" opacity="0.5" d="M388,478 C392,480 393.5,486 393,491 C389,493 385,495 382,497 C384,491 386,484 388,478 Z"/>
<!-- left auricle -->
<path fill="#b592bb" stroke="#8f6e97" stroke-width="0.6" d="M414.9,467.6 C416,465 418,464 419.5,464.3 C422,464.5 424.5,466.5 426.1,468.9 C428.5,472 430,475 430.3,477 C431,480 431.5,482.5 431.4,484.8 C428,486.5 425,486.6 422.1,486.1 C419.5,485 418,483.5 416.9,482.1 C415,479 414,476 414.2,475.5 C414,472 414.2,469.5 414.9,467.6 Z"/>
<path fill="#c6a9cb" opacity="0.7" d="M418,468 C421,467 424,470 426,474 C427,477 426,480 424,480 C421,477 419,473 418,468 Z"/>
<!-- ventricles -->
<path fill="#f1d9df" stroke="#a88a93" stroke-width="0.8" stroke-dasharray="1.3,0.9" d="M379.8,499.8 C377,505 376,512 377,519 C378,527 381,532 385,534.5 C392,537.5 400,539.5 407.2,541 C415,543 424,545.5 432.5,546.2 C437,546.4 441,546 444.4,544.8 C448,542.5 450.5,540 451.1,537.3 C452,531 451.5,517 446,508 C443,500 440,494 437.7,491.5 C435,488 433,486 431.1,484.9 C427,483.5 423,483 420,483.2 C416,483.5 414,484 413,486.5 C408,487 405,487.5 403,488.2 C398,489.5 395,490.5 393,491.5 C389,493 386,495 384.8,496 Z"/>
<path fill="none" stroke="#a8443f" stroke-width="1.1" d="M392,491 C386,498 383,506 381.5,514 C381,520 383,526 388,530 C395,533 402,533.5 408,531 C412,529 416,526 419,523"/>
<path fill="none" stroke="#a8443f" stroke-width="1" d="M384,506 C388,510 393,511 396,515 C398,518 400,518 402,520"/>
<path fill="none" stroke="#a8443f" stroke-width="1" d="M387,502 C392,500 398,500 404,499"/>
<path fill="none" stroke="#a8443f" stroke-width="1.1" d="M426,485 C428,492 428,498 426,505 C424,510 425,514 428,520 C431,527 433,532 432,537"/>
<path fill="none" stroke="#a8443f" stroke-width="1" d="M428,520 C423,526 420,530 417,532"/>
<path fill="none" stroke="#a8443f" stroke-width="1" d="M432,487 C437,492 440,498 441,504"/>
<path fill="none" stroke="#a8443f" stroke-width="1" d="M429,510 C434,513 437,515 440,518"/>
<path fill="none" stroke="#a8443f" stroke-width="0.9" d="M396,513 C399,509 402,510 404,507 C406,505 408,506 410,504"/>
<path fill="none" stroke="#a8443f" stroke-width="0.9" d="M402,520 C405,522 409,520 412,518"/>
<path fill="none" stroke="#a8443f" stroke-width="0.9" d="M433,533 C437,532 440,534 443,531"/>
<path fill="none" stroke="#a8443f" stroke-width="0.9" d="M426,505 C422,508 419,509 416,510"/>
</g>
<g id="liver">
<path fill="#7c4556" d="M204.9,503.6 C212,494 222,490.5 236,490.8 C255,491 275,495 289,499.8 C300,497 318,495.8 331,497 C338.5,498 338.5,505 337.3,517 C335,536 325,550 306,554.4 C295,556.5 290,561 280,569.6 C262,577 241,589 224,601 C212,609 202,608 199.5,596 C196.5,570 195.8,545 196.8,525 C197.5,515 200,508 204.9,503.6 Z"/>
<path fill="#8b5464" d="M207,505 C214,496 223,493 236,493.2 C255,493.4 274,497 289,502 C300,499.5 318,498.5 330,499.5 C336,500.5 336,507 335,517 C333,534 323,547 306,551 C294,553 288,556 279,565 C262,572 241,585 225,596 C214,603 204,603 202,593 C199,570 199,545 200,527 C200.5,516 202.5,509 207,505 Z"/>
<path fill="#7e4858" d="M294,503 C300,500.5 318,499.5 330,500.5 C336,501.5 336,507 335,517 C333,534 323,547 306,551 C300,552 296,553 293,555 C297,540 297,515 294,503 Z"/>
<path fill="#8c5566" d="M298,504 C305,502 318,501.5 329,502.5 C334,503.5 334,508 333,517 C331,532 322,544 306,548 C302,549 299,550 297,551 C300,537 300,516 298,504 Z"/>
<path fill="none" stroke="#a06c7b" stroke-width="2.6" stroke-linecap="round" d="M200.8,588 C199.5,560 199.8,538 201,522 C202.5,510 207,502 215,497.5 C221,494.5 227,493.5 233,493.3"/>
<path fill="none" stroke="#bb8d9b" stroke-width="1" stroke-linecap="round" d="M200.5,575 C199.8,550 200.3,530 202,517 C204,507 210,499 220,495.5"/>
<path fill="none" stroke="#a57483" stroke-width="1.2" d="M245,494 C260,495 275,498 287,501.5"/>
</g>
<g id="muscle">
<!-- cone -->
<path fill="#f3cbb0" stroke="#a87a66" stroke-width="0.8" stroke-dasharray="1.3,0.7" d="M417.5,235.5 C432,233.5 446,231 458.6,229 C470,228 480,228 488,229 L470,300.5 C466,300.5 464,300 462.8,299.2 C459,296 457.5,294 455.8,292.2 C451,286 448,282 444.7,278.3 C440,272 435,267 430.8,261.7 C425,254 420,247 417.5,241 Z"/>
<path fill="#f8dcc6" d="M419,236 C435,235 448,236 460,240 C450,243 440,244 425,242 Z"/>
<path fill="#e6b090" opacity="0.7" d="M419,239 C432,252 442,268 453,284 C446,281 436,267 428,255 C424,249 421,244 419,239 Z"/>
<path fill="none" stroke="#e2a888" stroke-width="0.8" opacity="0.8" d="M419,237 C432,238 445,241 458,247 M419,238.5 C430,246 442,256 452,266"/>
<path fill="#f8dcc6" opacity="0.8" d="M421,238 C436,245 448,252 458,260 C448,258 436,251 424,242 Z"/>
<!-- cross-section disc -->
<path fill="#efe2e8" stroke="#5e5468" stroke-width="0.8" stroke-dasharray="1.4,0.9" d="M450.4,251.8 C452,240 456,231 461.3,228.8 C468,227 476,226.8 484.3,227.2 C491,228 496,231 499.3,235.6 C503,240 506,244 507.6,249.1 C509,255 509.5,261 509,266.8 C508,272 506.5,276 504.7,279 C500,288 490,298 477.6,302.3 C472,302.5 468,302 465.4,300.7 C461,298 458,294 455.9,289.8 C452,284 449.5,279 449.1,273.6 C448.5,266 449,258 450.4,251.8 Z"/>
<g fill="#8ea6c8"><circle cx="478" cy="232" r="0.8"/><circle cx="459" cy="255" r="0.7"/><circle cx="468" cy="276" r="0.8"/><circle cx="488" cy="253" r="0.7"/><circle cx="490" cy="276" r="0.8"/><circle cx="503" cy="248" r="0.7"/><circle cx="456" cy="279" r="0.6"/><circle cx="478" cy="298" r="0.6"/></g>
<ellipse cx="467.4" cy="244.4" rx="9.2" ry="9.8" fill="#eba07d" stroke="#b87868" stroke-width="0.6" stroke-dasharray="1,0.6" transform="rotate(-10 467.4 244.4)"/><g fill="#f4c2a6"><circle cx="461.2" cy="243.6" r="0.67"/><circle cx="471.5" cy="243.2" r="0.59"/><circle cx="460.1" cy="243.6" r="0.65"/><circle cx="470.0" cy="238.9" r="0.49"/><circle cx="472.1" cy="238.9" r="0.41"/><circle cx="470.0" cy="237.4" r="0.62"/><circle cx="461.5" cy="238.2" r="0.76"/><circle cx="468.3" cy="253.1" r="0.67"/><circle cx="465.7" cy="236.2" r="0.75"/><circle cx="470.5" cy="251.1" r="0.37"/><circle cx="463.5" cy="248.0" r="0.70"/><circle cx="462.0" cy="244.9" r="0.37"/><circle cx="471.3" cy="237.0" r="0.63"/><circle cx="470.2" cy="244.0" r="0.67"/><circle cx="461.5" cy="250.0" r="0.80"/><circle cx="465.7" cy="239.9" r="0.44"/><circle cx="463.8" cy="242.6" r="0.45"/><circle cx="469.9" cy="248.6" r="0.73"/><circle cx="468.3" cy="238.0" r="0.66"/><circle cx="460.6" cy="246.6" r="0.53"/><circle cx="466.7" cy="248.3" r="0.38"/></g><g fill="#d9825f"><circle cx="474.3" cy="242.0" r="0.78"/><circle cx="468.4" cy="251.9" r="0.42"/><circle cx="462.8" cy="243.4" r="0.41"/><circle cx="472.2" cy="244.5" r="0.66"/><circle cx="464.6" cy="247.8" r="0.80"/><circle cx="470.0" cy="239.8" r="0.70"/><circle cx="467.6" cy="244.3" r="0.42"/><circle cx="467.8" cy="239.1" r="0.50"/><circle cx="460.2" cy="239.8" r="0.37"/><circle cx="466.1" cy="243.5" r="0.59"/><circle cx="469.3" cy="251.0" r="0.42"/><circle cx="462.3" cy="242.8" r="0.79"/><circle cx="463.4" cy="240.1" r="0.37"/><circle cx="473.0" cy="241.7" r="0.37"/><circle cx="460.1" cy="248.0" r="0.73"/><circle cx="465.6" cy="242.2" r="0.44"/><circle cx="474.6" cy="246.3" r="0.38"/><circle cx="466.7" cy="249.0" r="0.61"/><circle cx="468.9" cy="237.2" r="0.41"/></g><ellipse cx="488" cy="242" rx="9.4" ry="10.6" fill="#eba07d" stroke="#b87868" stroke-width="0.6" stroke-dasharray="1,0.6" transform="rotate(0 488 242)"/><g fill="#f4c2a6"><circle cx="490.9" cy="236.3" r="0.76"/><circle cx="493.2" cy="240.4" r="0.54"/><circle cx="486.5" cy="249.5" r="0.59"/><circle cx="489.2" cy="235.0" r="0.54"/><circle cx="494.1" cy="242.2" r="0.66"/><circle cx="484.8" cy="233.9" r="0.36"/><circle cx="493.2" cy="241.4" r="0.60"/><circle cx="488.6" cy="238.7" r="0.48"/><circle cx="492.4" cy="242.3" r="0.42"/><circle cx="490.1" cy="248.8" r="0.54"/><circle cx="487.1" cy="237.5" r="0.57"/><circle cx="493.5" cy="244.7" r="0.66"/><circle cx="483.8" cy="244.8" r="0.79"/><circle cx="493.3" cy="238.8" r="0.42"/><circle cx="485.4" cy="244.9" r="0.79"/><circle cx="492.2" cy="245.0" r="0.68"/><circle cx="489.6" cy="245.3" r="0.55"/></g><g fill="#d9825f"><circle cx="489.4" cy="235.9" r="0.56"/><circle cx="487.7" cy="247.7" r="0.79"/><circle cx="485.6" cy="241.4" r="0.46"/><circle cx="484.5" cy="234.2" r="0.65"/><circle cx="494.8" cy="239.9" r="0.45"/><circle cx="484.0" cy="247.3" r="0.66"/><circle cx="492.1" cy="239.2" r="0.42"/><circle cx="485.2" cy="251.0" r="0.73"/><circle cx="481.2" cy="246.1" r="0.71"/><circle cx="493.2" cy="246.8" r="0.79"/><circle cx="481.7" cy="238.2" r="0.38"/><circle cx="488.9" cy="245.8" r="0.56"/><circle cx="482.5" cy="245.6" r="0.39"/><circle cx="490.4" cy="249.2" r="0.65"/><circle cx="491.2" cy="249.9" r="0.64"/><circle cx="481.2" cy="238.8" r="0.36"/><circle cx="494.4" cy="236.0" r="0.58"/><circle cx="490.3" cy="236.1" r="0.60"/><circle cx="484.8" cy="245.5" r="0.46"/><circle cx="486.8" cy="241.1" r="0.69"/><circle cx="483.5" cy="243.6" r="0.68"/><circle cx="486.9" cy="245.4" r="0.60"/><circle cx="491.8" cy="240.3" r="0.35"/></g><ellipse cx="459.2" cy="266.8" rx="7.8" ry="10.8" fill="#eba07d" stroke="#b87868" stroke-width="0.6" stroke-dasharray="1,0.6" transform="rotate(5 459.2 266.8)"/><g fill="#f4c2a6"><circle cx="454.0" cy="269.2" r="0.60"/><circle cx="460.2" cy="257.4" r="0.68"/><circle cx="457.4" cy="261.2" r="0.39"/><circle cx="460.3" cy="275.0" r="0.67"/><circle cx="461.7" cy="261.6" r="0.72"/><circle cx="458.2" cy="264.7" r="0.51"/><circle cx="454.9" cy="261.6" r="0.62"/><circle cx="457.7" cy="275.8" r="0.49"/><circle cx="457.9" cy="274.8" r="0.45"/><circle cx="458.4" cy="270.1" r="0.58"/><circle cx="453.8" cy="268.9" r="0.35"/><circle cx="455.4" cy="262.2" r="0.40"/><circle cx="456.2" cy="271.8" r="0.36"/><circle cx="455.0" cy="269.9" r="0.67"/><circle cx="454.2" cy="260.4" r="0.66"/><circle cx="461.7" cy="275.4" r="0.55"/><circle cx="460.7" cy="266.4" r="0.78"/><circle cx="459.3" cy="268.0" r="0.56"/><circle cx="455.8" cy="275.1" r="0.78"/><circle cx="460.0" cy="258.2" r="0.40"/><circle cx="463.9" cy="270.0" r="0.70"/></g><g fill="#d9825f"><circle cx="461.6" cy="260.3" r="0.63"/><circle cx="459.6" cy="266.6" r="0.63"/><circle cx="457.4" cy="260.5" r="0.69"/><circle cx="456.2" cy="259.2" r="0.78"/><circle cx="463.2" cy="262.0" r="0.64"/><circle cx="458.8" cy="276.0" r="0.74"/><circle cx="465.4" cy="269.3" r="0.59"/><circle cx="463.3" cy="267.3" r="0.68"/><circle cx="454.0" cy="265.1" r="0.47"/><circle cx="458.4" cy="271.8" r="0.43"/><circle cx="454.6" cy="272.6" r="0.61"/><circle cx="454.9" cy="271.7" r="0.39"/><circle cx="454.3" cy="272.8" r="0.65"/><circle cx="461.9" cy="259.4" r="0.47"/><circle cx="458.8" cy="273.7" r="0.66"/><circle cx="456.8" cy="259.3" r="0.66"/><circle cx="463.5" cy="271.2" r="0.61"/><circle cx="456.0" cy="268.0" r="0.79"/><circle cx="460.1" cy="260.7" r="0.36"/></g><ellipse cx="476.9" cy="263.3" rx="9" ry="11.3" fill="#eba07d" stroke="#b87868" stroke-width="0.6" stroke-dasharray="1,0.6" transform="rotate(0 476.9 263.3)"/><g fill="#f4c2a6"><circle cx="480.6" cy="268.3" r="0.66"/><circle cx="472.2" cy="270.3" r="0.37"/><circle cx="478.3" cy="267.0" r="0.70"/><circle cx="478.1" cy="270.3" r="0.39"/><circle cx="470.6" cy="263.6" r="0.57"/><circle cx="474.3" cy="270.6" r="0.49"/><circle cx="479.8" cy="255.2" r="0.67"/><circle cx="480.8" cy="258.2" r="0.43"/><circle cx="477.6" cy="264.7" r="0.45"/><circle cx="476.1" cy="254.5" r="0.65"/><circle cx="474.0" cy="267.3" r="0.59"/><circle cx="474.6" cy="270.1" r="0.66"/><circle cx="474.0" cy="266.1" r="0.73"/><circle cx="479.0" cy="260.8" r="0.53"/><circle cx="481.9" cy="261.6" r="0.56"/><circle cx="478.0" cy="266.7" r="0.40"/><circle cx="477.8" cy="255.0" r="0.41"/><circle cx="470.8" cy="260.1" r="0.69"/><circle cx="482.1" cy="258.0" r="0.46"/><circle cx="476.4" cy="261.2" r="0.65"/><circle cx="476.7" cy="255.5" r="0.58"/><circle cx="479.7" cy="259.6" r="0.40"/></g><g fill="#d9825f"><circle cx="484.0" cy="268.4" r="0.56"/><circle cx="474.1" cy="267.1" r="0.39"/><circle cx="478.7" cy="258.9" r="0.74"/><circle cx="471.8" cy="257.3" r="0.72"/><circle cx="480.5" cy="272.0" r="0.59"/><circle cx="480.5" cy="258.9" r="0.72"/><circle cx="473.3" cy="264.4" r="0.52"/><circle cx="481.7" cy="259.5" r="0.74"/><circle cx="475.0" cy="265.0" r="0.36"/><circle cx="479.3" cy="266.8" r="0.51"/><circle cx="482.5" cy="269.1" r="0.62"/><circle cx="484.0" cy="264.2" r="0.46"/><circle cx="477.3" cy="261.1" r="0.50"/><circle cx="470.9" cy="265.4" r="0.74"/><circle cx="473.4" cy="260.7" r="0.48"/><circle cx="475.4" cy="272.5" r="0.68"/><circle cx="470.2" cy="258.7" r="0.39"/><circle cx="484.6" cy="265.6" r="0.48"/></g><ellipse cx="498.5" cy="260.7" rx="8.3" ry="13.8" fill="#eba07d" stroke="#b87868" stroke-width="0.6" stroke-dasharray="1,0.6" transform="rotate(-5 498.5 260.7)"/><g fill="#f4c2a6"><circle cx="502.5" cy="257.3" r="0.74"/><circle cx="493.3" cy="255.4" r="0.56"/><circle cx="499.1" cy="254.4" r="0.74"/><circle cx="503.0" cy="250.8" r="0.46"/><circle cx="499.2" cy="268.9" r="0.37"/><circle cx="493.4" cy="261.3" r="0.59"/><circle cx="491.1" cy="259.7" r="0.63"/><circle cx="502.0" cy="255.7" r="0.74"/><circle cx="498.8" cy="261.3" r="0.61"/><circle cx="493.7" cy="254.0" r="0.72"/><circle cx="500.3" cy="255.6" r="0.64"/><circle cx="501.5" cy="253.1" r="0.53"/><circle cx="499.2" cy="253.9" r="0.44"/><circle cx="494.2" cy="254.1" r="0.68"/><circle cx="500.5" cy="257.7" r="0.58"/><circle cx="504.3" cy="255.2" r="0.53"/><circle cx="496.2" cy="267.9" r="0.56"/><circle cx="497.8" cy="265.8" r="0.43"/><circle cx="503.2" cy="255.7" r="0.65"/><circle cx="498.3" cy="257.3" r="0.47"/><circle cx="497.4" cy="273.1" r="0.63"/><circle cx="494.3" cy="262.5" r="0.40"/><circle cx="493.9" cy="254.0" r="0.72"/><circle cx="502.4" cy="262.7" r="0.41"/><circle cx="495.1" cy="263.4" r="0.44"/><circle cx="499.4" cy="271.3" r="0.35"/></g><g fill="#d9825f"><circle cx="502.2" cy="253.6" r="0.35"/><circle cx="499.8" cy="257.8" r="0.78"/><circle cx="497.2" cy="271.8" r="0.63"/><circle cx="501.1" cy="268.7" r="0.63"/><circle cx="500.4" cy="266.4" r="0.59"/><circle cx="493.8" cy="260.3" r="0.41"/><circle cx="505.0" cy="260.2" r="0.35"/><circle cx="499.3" cy="272.4" r="0.38"/><circle cx="500.3" cy="271.6" r="0.47"/><circle cx="497.3" cy="248.4" r="0.59"/><circle cx="502.5" cy="268.7" r="0.55"/><circle cx="495.7" cy="264.9" r="0.49"/><circle cx="502.2" cy="268.7" r="0.41"/><circle cx="499.2" cy="248.5" r="0.41"/></g><ellipse cx="468.1" cy="287.1" rx="9.6" ry="10.6" fill="#eba07d" stroke="#b87868" stroke-width="0.6" stroke-dasharray="1,0.6" transform="rotate(0 468.1 287.1)"/><g fill="#f4c2a6"><circle cx="475.0" cy="284.1" r="0.78"/><circle cx="474.1" cy="287.0" r="0.67"/><circle cx="465.0" cy="293.6" r="0.51"/><circle cx="472.2" cy="290.6" r="0.79"/><circle cx="468.4" cy="288.9" r="0.61"/><circle cx="465.5" cy="291.3" r="0.76"/><circle cx="476.6" cy="288.8" r="0.60"/><circle cx="462.7" cy="289.3" r="0.49"/><circle cx="472.2" cy="286.1" r="0.65"/><circle cx="475.7" cy="286.9" r="0.55"/><circle cx="470.3" cy="278.8" r="0.48"/><circle cx="469.9" cy="296.4" r="0.69"/><circle cx="466.1" cy="290.0" r="0.45"/><circle cx="471.0" cy="281.4" r="0.80"/><circle cx="472.3" cy="280.8" r="0.38"/><circle cx="468.7" cy="289.9" r="0.66"/><circle cx="460.8" cy="287.6" r="0.65"/><circle cx="467.4" cy="278.9" r="0.65"/></g><g fill="#d9825f"><circle cx="464.7" cy="292.5" r="0.48"/><circle cx="466.2" cy="295.8" r="0.63"/><circle cx="462.3" cy="283.3" r="0.38"/><circle cx="466.1" cy="287.7" r="0.72"/><circle cx="469.1" cy="294.2" r="0.74"/><circle cx="460.3" cy="289.8" r="0.61"/><circle cx="464.6" cy="290.3" r="0.54"/><circle cx="463.0" cy="292.2" r="0.43"/><circle cx="464.0" cy="279.4" r="0.69"/><circle cx="469.5" cy="278.0" r="0.73"/><circle cx="474.6" cy="292.1" r="0.51"/><circle cx="463.8" cy="278.8" r="0.38"/><circle cx="472.5" cy="278.9" r="0.69"/><circle cx="471.3" cy="286.0" r="0.43"/><circle cx="475.0" cy="290.8" r="0.39"/><circle cx="467.2" cy="291.9" r="0.58"/><circle cx="473.5" cy="289.4" r="0.70"/><circle cx="467.7" cy="285.6" r="0.48"/><circle cx="463.8" cy="281.2" r="0.48"/><circle cx="469.7" cy="285.0" r="0.59"/><circle cx="470.1" cy="282.1" r="0.71"/><circle cx="472.2" cy="285.6" r="0.74"/></g>
<!-- tube bundle -->
<path fill="#f1ddb0" stroke="#a88e68" stroke-width="0.6" d="M479.5,276 C484,272.5 490,273 496,277 C502,281 507,286 512,290 L513,312 C506,312.5 499,312 494,310 C487,306 482,300 480.5,292 C479.5,286 479,280 479.5,276 Z"/>
<path fill="none" stroke="#b89c70" stroke-width="0.7" d="M481,282 C488,282 496,288 505,296 M481.5,290 C487,292 494,298 502,306 M483,298 C488,301 493,305 498,309"/>
<path fill="none" stroke="#fbf2d4" stroke-width="1.6" d="M482.5,278.5 C489,278 496,283.5 505,292 M482.5,286 C489,288 495,294 503,301.5 M483.5,294 C488.5,297 494,301.5 500,306"/>
<!-- necks -->
<path fill="#e9b599" d="M520,296 C525,297 529,298 531,299 L531,307 C527,308 523,311 518,313 Z"/>
<path fill="#e9b599" d="M543,298 C547,297 550,298 553,298.5 L553,302 C550,303 547,305 543,307 Z"/>
<ellipse cx="512.6" cy="302.4" rx="11.3" ry="13.6" fill="#eba37e" stroke="#a8746a" stroke-width="0.6" stroke-dasharray="1,0.7"/><g fill="#f6c6aa"><circle cx="516.7" cy="307.8" r="0.55"/><circle cx="511.3" cy="295.5" r="0.49"/><circle cx="516.9" cy="298.5" r="0.56"/><circle cx="508.2" cy="308.0" r="0.74"/><circle cx="512.2" cy="293.6" r="0.52"/><circle cx="505.0" cy="303.5" r="0.63"/><circle cx="512.9" cy="314.1" r="0.41"/><circle cx="506.2" cy="307.8" r="0.36"/><circle cx="520.4" cy="296.6" r="0.36"/><circle cx="520.1" cy="297.2" r="0.46"/><circle cx="510.8" cy="295.3" r="0.41"/><circle cx="511.4" cy="308.3" r="0.68"/><circle cx="519.8" cy="307.6" r="0.44"/><circle cx="504.2" cy="295.2" r="0.67"/><circle cx="515.6" cy="302.7" r="0.37"/><circle cx="517.8" cy="303.2" r="0.79"/><circle cx="506.9" cy="292.9" r="0.42"/><circle cx="504.8" cy="299.3" r="0.77"/><circle cx="511.3" cy="300.7" r="0.59"/><circle cx="510.1" cy="304.2" r="0.62"/><circle cx="517.4" cy="303.4" r="0.51"/><circle cx="506.2" cy="299.1" r="0.64"/><circle cx="514.8" cy="300.8" r="0.64"/><circle cx="509.4" cy="300.5" r="0.67"/></g><g fill="#d47f5c"><circle cx="517.1" cy="293.2" r="0.76"/><circle cx="506.7" cy="306.9" r="0.71"/><circle cx="509.5" cy="293.9" r="0.56"/><circle cx="517.2" cy="312.7" r="0.38"/><circle cx="511.5" cy="292.5" r="0.76"/><circle cx="517.7" cy="295.0" r="0.45"/><circle cx="502.9" cy="302.6" r="0.74"/><circle cx="518.5" cy="306.3" r="0.79"/><circle cx="518.8" cy="301.0" r="0.43"/><circle cx="516.0" cy="292.1" r="0.37"/><circle cx="517.7" cy="308.5" r="0.42"/><circle cx="505.2" cy="302.0" r="0.39"/><circle cx="505.0" cy="310.3" r="0.59"/><circle cx="505.6" cy="303.4" r="0.67"/><circle cx="505.0" cy="298.9" r="0.73"/><circle cx="513.2" cy="301.6" r="0.57"/><circle cx="518.6" cy="298.7" r="0.54"/><circle cx="513.5" cy="313.9" r="0.47"/><circle cx="508.8" cy="293.3" r="0.63"/><circle cx="507.6" cy="302.6" r="0.78"/><circle cx="520.5" cy="305.8" r="0.71"/></g><ellipse cx="537.3" cy="302.6" rx="8" ry="8" fill="#eba37e" stroke="#a8746a" stroke-width="0.6" stroke-dasharray="1,0.7"/><g fill="#f6c6aa"><circle cx="530.7" cy="299.9" r="0.70"/><circle cx="538.3" cy="302.2" r="0.45"/><circle cx="530.2" cy="303.7" r="0.69"/><circle cx="533.8" cy="298.1" r="0.73"/><circle cx="532.6" cy="303.9" r="0.57"/><circle cx="538.7" cy="303.7" r="0.38"/><circle cx="537.4" cy="308.8" r="0.70"/><circle cx="540.8" cy="302.4" r="0.36"/><circle cx="536.7" cy="295.3" r="0.50"/><circle cx="543.2" cy="301.6" r="0.70"/><circle cx="536.1" cy="309.3" r="0.53"/><circle cx="536.6" cy="301.5" r="0.65"/><circle cx="538.8" cy="304.8" r="0.43"/><circle cx="538.8" cy="302.7" r="0.62"/></g><g fill="#d47f5c"><circle cx="534.7" cy="305.6" r="0.63"/><circle cx="533.8" cy="302.3" r="0.41"/><circle cx="540.3" cy="297.9" r="0.40"/><circle cx="538.2" cy="309.4" r="0.65"/><circle cx="540.6" cy="302.6" r="0.57"/><circle cx="541.3" cy="299.7" r="0.75"/><circle cx="535.9" cy="305.8" r="0.75"/><circle cx="544.1" cy="302.7" r="0.65"/><circle cx="539.3" cy="296.6" r="0.50"/><circle cx="541.0" cy="306.8" r="0.51"/><circle cx="543.8" cy="304.6" r="0.44"/></g>
<circle cx="553.8" cy="300.3" r="3.2" fill="#e27b82" stroke="#b55a66" stroke-width="0.5"/>
<!-- fibrils -->
<g fill="none" stroke="#c96a7c" stroke-width="1.8" stroke-dasharray="1.2,0.5">
<path d="M555,300 C570,304 585,311 599.5,317"/>
<path d="M555,301 C568,307 582,315 595,322.5"/>
<path d="M555,302 C566,310 577,320 586,327"/>
<path d="M555,302 C564,312 572,322 579,327.5"/>
<path d="M555,302 C563,315 570,330 574.5,345"/>
<path d="M555,302 C560,316 566,332 571,344"/>
</g>
</g>
<g id="nerve">
<defs>
<linearGradient id="ngrad" x1="0" y1="0" x2="0" y2="1">
<stop offset="0" stop-color="#f5dc40"/><stop offset="0.3" stop-color="#faec9a"/><stop offset="0.55" stop-color="#f5da3a"/><stop offset="1" stop-color="#eec40a"/>
</linearGradient>
</defs>
<path fill="url(#ngrad)" stroke="#7a6a18" stroke-width="0.8" stroke-dasharray="1.6,0.6" d="M437,351.5 C434,352 432.5,356 432,361 C431,368 432.5,375 436,380 C441,388 448,393 455,398 C464,406 474,414 488,425 C495,430 503,433 512.3,433 L522,433.5 L522,362 L510.3,362.8 C500,364 490,367 480,369.5 C474,371.5 468,373.5 462,375 C457,376.5 452,376.5 448,375.5 C443,373.5 439,369 438,363 C437.5,359 438.5,356 440,353.5 C439.5,352 438.5,351.3 437,351.5 Z"/>
<path fill="none" stroke="#f0d20a" stroke-width="2.6" opacity="0.9" d="M447,378 C458,378.5 470,375 482,371.5 C492,368.5 502,366 512,364.5"/>
<path fill="#fdf6cf" opacity="0.8" d="M455,383 C468,380 484,375 500,370.5 C492,378 474,384 457,386 Z"/>
<path fill="#efd33a" opacity="0.6" d="M444,384 C455,394 470,405 492,420 C496,424 502,428 510,430 C498,430 488,425 478,418 C464,408 452,396 444,384 Z"/>
<ellipse cx="522.2" cy="397.8" rx="22.3" ry="35.9" fill="#f0d84a" stroke="#70682a" stroke-width="0.7" stroke-dasharray="1.3,0.8" transform="rotate(-4 522 398)"/>
<ellipse cx="523.2" cy="397.8" rx="20.3" ry="34" fill="#dde7b2" transform="rotate(-4 522 398)"/>
<ellipse cx="518.2" cy="372.8" rx="5" ry="5" fill="#ede6bc" stroke="#55543a" stroke-width="0.65" stroke-dasharray="1.1,0.5"/><path d="M515.3,376.0q0.7,1.0 -0.6,1.5M519.9,375.2q-0.0,-1.2 1.3,-0.9M516.8,371.8q-0.2,-1.2 1.2,-1.1M521.5,373.9q-1.2,-0.3 -0.5,-1.5M517.4,372.1q-0.2,-1.2 1.2,-1.1M517.7,373.0q-0.8,-0.9 0.4,-1.6M519.1,369.6q0.1,1.2 -1.2,1.0M519.6,373.3q0.6,-1.0 1.6,-0.0" fill="none" stroke="#7a7050" stroke-width="0.6"/><ellipse cx="532.1" cy="380.7" rx="4.4" ry="4.6" fill="#ede6bc" stroke="#55543a" stroke-width="0.65" stroke-dasharray="1.1,0.5"/><path d="M529.3,379.0q-1.2,-0.0 -0.8,-1.4M533.6,378.7q0.1,-1.2 1.4,-0.7M531.5,379.4q0.6,-1.1 1.6,-0.1M529.7,383.5q-0.4,1.1 -1.6,0.3M531.3,378.8q-1.2,0.2 -1.1,-1.1M534.2,378.9q-1.1,-0.4 -0.4,-1.6M531.7,379.4q0.8,0.9 -0.4,1.6" fill="none" stroke="#7a7050" stroke-width="0.6"/><ellipse cx="508.5" cy="386.7" rx="3.6" ry="4.2" fill="#ede6bc" stroke="#55543a" stroke-width="0.65" stroke-dasharray="1.1,0.5"/><path d="M509.5,386.2q-1.2,0.2 -1.1,-1.2M509.0,384.4q0.5,-1.1 1.6,-0.2M510.5,385.3q0.5,-1.1 1.6,-0.3M509.5,385.5q-0.1,1.2 -1.4,0.7M506.4,386.2q-1.1,0.4 -1.2,-1.0" fill="none" stroke="#7a7050" stroke-width="0.6"/><ellipse cx="522.2" cy="390.6" rx="6.3" ry="6.3" fill="#ede6bc" stroke="#55543a" stroke-width="0.65" stroke-dasharray="1.1,0.5"/><path d="M522.1,390.4q-1.1,-0.4 -0.4,-1.5M518.9,388.2q-1.1,-0.4 -0.3,-1.6M522.0,387.7q-0.2,1.2 -1.5,0.6M526.4,393.2q-0.2,-1.2 1.2,-1.1M520.9,389.9q-0.3,-1.2 1.0,-1.2M522.7,391.8q1.2,0.3 0.5,1.5M524.1,388.0q-0.6,1.1 -1.6,0.1M522.5,394.6q-1.0,0.7 -1.5,-0.6M523.5,388.0q1.1,-0.4 1.3,0.9M520.0,391.0q-0.5,-1.1 0.9,-1.4" fill="none" stroke="#7a7050" stroke-width="0.6"/><ellipse cx="510.3" cy="404.5" rx="4.8" ry="5.3" fill="#ede6bc" stroke="#55543a" stroke-width="0.65" stroke-dasharray="1.1,0.5"/><path d="M511.6,404.1q-0.7,-1.0 0.6,-1.5M507.0,408.1q-1.1,-0.4 -0.3,-1.6M510.9,402.7q-1.2,0.2 -1.0,-1.2M511.3,403.9q0.9,0.8 -0.3,1.6M508.3,407.3q0.3,1.2 -1.1,1.2M510.4,406.1q0.2,1.2 -1.2,1.1M512.4,404.3q1.1,-0.4 1.3,1.0" fill="none" stroke="#7a7050" stroke-width="0.6"/><ellipse cx="524.2" cy="410.5" rx="5.8" ry="6" fill="#ede6bc" stroke="#55543a" stroke-width="0.65" stroke-dasharray="1.1,0.5"/><path d="M521.8,409.9q-0.8,0.9 -1.6,-0.2M522.4,409.9q-1.1,0.5 -1.4,-0.8M523.3,413.6q-0.5,1.1 -1.6,0.2M520.6,412.6q-1.1,0.5 -1.3,-0.9M520.3,412.6q-0.2,-1.2 1.2,-1.1M525.5,413.2q-0.1,1.2 -1.4,0.7M527.0,409.4q0.8,-0.9 1.6,0.2M528.2,411.0q-1.1,0.6 -1.4,-0.8M526.1,412.3q-1.2,-0.0 -0.8,-1.4" fill="none" stroke="#7a7050" stroke-width="0.6"/><ellipse cx="533.1" cy="414.4" rx="4" ry="4.3" fill="#ede6bc" stroke="#55543a" stroke-width="0.65" stroke-dasharray="1.1,0.5"/><path d="M530.8,413.5q-0.5,-1.1 0.9,-1.4M530.4,413.9q1.0,-0.6 1.4,0.7M534.3,413.0q0.8,0.9 -0.4,1.5M533.5,415.1q-0.3,1.2 -1.5,0.5M533.2,417.4q-0.7,-1.0 0.6,-1.5M533.3,411.8q-1.2,0.2 -1.1,-1.2" fill="none" stroke="#7a7050" stroke-width="0.6"/><ellipse cx="519.2" cy="423.6" rx="4.3" ry="4.4" fill="#ede6bc" stroke="#55543a" stroke-width="0.65" stroke-dasharray="1.1,0.5"/><path d="M516.3,426.5q-1.2,-0.1 -0.7,-1.4M519.8,424.7q1.2,0.3 0.5,1.5M521.1,424.8q1.1,0.5 0.2,1.6M521.7,425.9q1.2,-0.1 1.0,1.3M516.7,426.2q0.2,-1.2 1.5,-0.6M517.7,421.0q-0.5,-1.1 0.8,-1.4" fill="none" stroke="#7a7050" stroke-width="0.6"/><ellipse cx="534.5" cy="397.5" rx="3.2" ry="4" fill="#ede6bc" stroke="#55543a" stroke-width="0.65" stroke-dasharray="1.1,0.5"/><path d="M532.5,397.8q0.4,-1.1 1.6,-0.4M534.0,396.6q-1.0,0.6 -1.4,-0.7M532.8,395.0q-1.1,-0.5 -0.3,-1.6M535.9,400.3q1.0,0.7 -0.1,1.6M533.6,399.3q-0.3,1.2 -1.5,0.5" fill="none" stroke="#7a7050" stroke-width="0.6"/>
<path fill="#c8281e" d="M527,394 L531.5,395 L528.5,399 Z"/>
<path fill="#2f8fd8" d="M529,401.5 L533,402 L531,406 Z"/>
<!-- cable -->
<path fill="none" stroke="#6f6f70" stroke-width="3.2" stroke-linecap="round" d="M538,397.5 C548,396.5 558,398.5 567,402 C576,406 584,412 591.5,418.5"/>
<path fill="none" stroke="#f0f0ea" stroke-width="2.2" stroke-linecap="round" d="M538,397.5 C548,396.5 558,398.5 567,402 C576,406 584,412 591.5,418.5"/>
<path fill="none" stroke="#b8b8b0" stroke-width="0.6" stroke-dasharray="1.2,1.5" d="M540,397.5 C548,396.8 558,398.8 567,402.3 C576,406.3 584,412.3 590,417.5"/>
<path fill="none" stroke="#e8d890" stroke-width="2.6" stroke-linecap="round" d="M589,416.5 L592.8,419.6"/>
</g>
<g id="skin">
<!-- top surface -->
<path fill="#f0d4b0" stroke="#c9a98a" stroke-width="0.6" stroke-dasharray="1.2,0.8" d="M21.5,247.5 C24,244 28,241.5 32,240.5 C45,239.5 60,239 75,239 C85,239 93,240 99.8,241.5 L100,246 C92,247.5 84,249 77,250.5 C74,251.2 72,251.8 69.5,252.3 C60,251 50,250 42,249 C35,248.5 27,248 21.5,247.5 Z"/>
<g fill="#d9ae80" opacity="0.9"><circle cx="40" cy="243" r="0.8"/><circle cx="55" cy="242" r="0.8"/><circle cx="70" cy="245" r="0.8"/><circle cx="85" cy="243" r="0.8"/><circle cx="62" cy="248" r="0.7"/><circle cx="90" cy="246" r="0.7"/><circle cx="48" cy="246" r="0.7"/><circle cx="34" cy="245" r="0.6"/><circle cx="78" cy="241" r="0.6"/></g>
<path fill="#f6e0c8" opacity="0.8" d="M33,240.5 C45,240 60,239.5 75,239.5 C70,241 55,242.5 40,242.5 Z"/>
<!-- left blue face -->
<path fill="#b4dcf3" stroke="#6f9ab8" stroke-width="0.6" d="M21.5,247.5 C27,248 35,248.5 42,249 C50,250 60,251 69.5,252.3 L69.5,294.5 L21.5,278 Z"/>
<path fill="#f2eed0" opacity="0.7" d="M22,262 C26,257 31,255 35,256 C33,264 29,272 24,277 L22,277 Z"/>
<path fill="#f4f0a8" opacity="0.6" d="M25,266 C29,262 33,261 35,263 C33,268 30,273 26,276 Z"/>
<path fill="#f3d0c4" d="M21.5,247.5 C27,248 35,248.5 42,249 C50,250 60,251 69.5,252.3 L69.5,254.5 C60,253.2 50,252.2 42,251.2 C35,250.7 27,250.2 21.5,249.7 Z"/>
<!-- yellow nerve branches -->
<g fill="none" stroke="#ecea70" stroke-width="2.2" stroke-linecap="round" opacity="0.9">
<path d="M50,292 C50,285 51,278 52,270 C53,263 52,258 51,253"/>
<path d="M52,270 C47,266 45,262 45,258 M52,270 C56,266 58,262 59,259 M51,280 C46,278 44,275 43,272 M51,282 C55,279 58,278 60,276"/>
</g>
<g fill="#efec7a" opacity="0.9"><circle cx="45" cy="258" r="2.3"/><circle cx="59" cy="259" r="2"/><circle cx="43" cy="272" r="1.8"/><circle cx="60" cy="276" r="1.8"/><circle cx="52" cy="264" r="2.2"/><circle cx="50" cy="251" r="2.2"/></g>
<!-- dark blue vessel -->
<path fill="none" stroke="#3a5f9a" stroke-width="1.3" d="M42,285 C41,280 43,275 42,268 C41,262 42,258 43,256"/>
<path fill="none" stroke="#5a2a6a" stroke-width="0.9" d="M42,285 C39,288 37,291 36,292"/>
<!-- right blue face -->
<path fill="#92c6ea" stroke="#5f8ab0" stroke-width="0.6" d="M69.5,252.3 C72,251.8 74,251.2 77,250.5 C84,249 92,247.5 100,246 L100,284.5 L69.5,294.5 Z"/>
<path fill="#6ea8d4" d="M69.5,256 L76,255 L76,293 L69.5,294.5 Z" opacity="0.6"/>
<path fill="#f0c8a8" d="M77,250.5 C84,249 92,247.5 100,246 L100,251 C95,253 92,255 88,254 C84,256 80,255 77,254 Z"/>
<!-- green tree -->
<path fill="#3b8a44" d="M79,250 C80,256 81,266 81.5,275 C82,282 82.5,288 83,291 L72,293.5 C73,288 74,282 75,275 C76,266 77.5,256 79,250 Z"/>
<g fill="#2c6e34"><circle cx="75" cy="270" r="1.5"/><circle cx="81" cy="272" r="1.5"/><circle cx="75" cy="280" r="1.6"/><circle cx="82" cy="282" r="1.6"/><circle cx="76" cy="288" r="1.6"/><circle cx="79" cy="262" r="1.3"/></g>
<!-- hair follicle -->
<path fill="#ecd0e0" d="M86,252 C88,262 88,272 90,281 L96,281 C96,272 95,262 94,252 Z" opacity="0.9"/>
<path fill="#a01f6e" d="M89,250 C90,262 90,272 91,281 C92,283 94,283 95,281 C94,272 93,262 92,250 Z"/>
<ellipse cx="96.5" cy="259.5" rx="2.4" ry="3.4" fill="#f4f2ea"/>
<path fill="none" stroke="#6b5a50" stroke-width="0.9" d="M91,250 C92,245 94,239 96,236 C97,233 98,231 98.4,230.5"/>
<!-- base slab -->
<path fill="#f5e383" stroke="#c2a850" stroke-width="0.6" stroke-dasharray="1.2,0.8" d="M12.4,280.4 L21.5,277 L69.5,294 L100,284 L100,299.4 L59.5,311 L12.4,291.1 Z"/>
<path fill="#f8ea9a" d="M12.4,280.4 L59.5,297.7 L59.5,311 L12.4,291.1 Z"/>
<path fill="#eed45a" d="M59.5,297.7 L100,287 L100,299.4 L59.5,311 Z"/>
<path fill="#f6e59a" d="M12.4,280.4 L21.5,277 L69.5,294 L59.5,297.7 Z"/>
<g fill="none" stroke="#d05a28" stroke-width="1.2" stroke-linecap="round">
<path d="M28,286 l3,1 M35,288 l4,0.5 l2,1.5 M44,290 l3,1.5 M20,284 l2,0.5 M48,288 l2,-1 M52,292 l3,1 M75,294 l4,-1 M82,293 l3,-1 M88,291 l4,-1.5"/>
</g>
<g fill="#d04a20"><circle cx="49" cy="302" r="0.9"/><circle cx="30" cy="295" r="0.6"/><circle cx="66" cy="303" r="0.6"/></g>
<g fill="none" stroke="#6a7a3a" stroke-width="0.8"><path d="M55,292 l2,1.5 l1.5,-1 M58,294 l2,0.5"/></g>
</g>
<g id="trachea">
<g fill="none" stroke="#9a8c86" stroke-linecap="round" stroke-dasharray="0.9,0.6"><path d="M54.0,399.0L51.4,401.7M63.6,397.4L72.1,404.3" stroke-width="4.3"/><path d="M51.4,401.7L46.3,409.4M72.1,404.3L82.4,411.1" stroke-width="4.0"/><path d="M46.3,409.4L39.4,424.9M82.4,411.1L87.6,423.1" stroke-width="3.7"/><path d="M39.4,424.9L36.9,435.1M87.6,423.1L91.0,438.6" stroke-width="3.3"/><path d="M36.9,435.1L36.0,447.1M91.0,438.6L94.4,450.6" stroke-width="3.0"/><path d="M36.0,447.1L36.9,462.6M37.5,428.3L28.0,429.0M94.4,450.6L103.0,466.0" stroke-width="2.7"/><path d="M46.3,406.9L38.0,404.5" stroke-width="2.8"/><path d="M38.0,404.5L30.9,403.4M82.4,409.4L85.9,395.7" stroke-width="2.5"/><path d="M30.9,403.4L18.9,401.7M36.9,458.0L44.6,459.1M85.9,395.7L84.1,383.7M85.0,398.0L91.0,390.6M89.3,426.6L77.3,426.6M92.7,438.6L103.0,440.3M96.0,453.0L106.4,459.1" stroke-width="2.1"/><path d="M18.9,401.7L12.0,404.3M44.9,406.5L44.0,402.6M42.1,405.7L38.9,408.5M39.4,404.9L38.2,401.7M36.8,404.3L34.7,407.6M34.5,403.9L33.1,402.5M32.1,403.6L30.5,405.8M29.4,403.2L25.7,405.6M26.4,402.8L24.2,400.7M23.4,402.3L20.8,405.1M20.4,401.9L19.4,399.7M17.8,402.1L17.6,405.0M15.4,403.0L11.8,401.2M13.1,403.9L11.8,406.1M34.0,402.3L30.9,400.0M34.1,399.0L32.0,396.5M34.2,395.6L32.3,393.6M34.3,392.3L36.5,391.4M34.7,389.3L37.8,387.0M35.6,386.7L39.3,384.4M36.4,384.2L35.1,380.6M37.3,381.6L36.2,378.9M33.6,390.8L30.5,391.0M32.4,388.2L33.2,385.4M31.1,385.8L27.8,385.4M29.8,383.2L30.4,379.3M35.9,428.4L34.5,426.1M32.8,428.6L31.7,430.4M29.6,428.9L27.7,425.8M26.8,429.2L23.6,426.6M24.3,429.5L23.1,431.6M21.8,429.8L20.3,433.4M19.1,429.6L17.4,426.6M16.1,428.7L13.3,431.0M13.1,427.9L10.4,431.4M10.1,427.0L9.7,423.8M19.3,430.6L17.8,434.6M16.7,431.9L13.8,429.6M14.2,433.2L10.9,432.5M11.6,434.5L9.1,432.7M34.7,442.2L34.0,445.7M32.0,442.8L29.0,441.2M29.3,443.2L25.9,440.5M26.6,444.0L23.0,442.0M23.7,444.9L21.2,443.3M21.2,446.7L19.2,447.1M19.1,449.3L19.9,451.1M16.9,451.8L17.1,454.5M14.8,454.4L11.6,454.1M13.4,457.4L10.9,458.7M12.8,460.9L9.6,463.0M12.3,464.3L10.2,465.2M35.4,453.1L32.1,450.7M32.5,454.6L32.6,457.8M29.5,456.2L26.2,454.6M27.1,457.9L22.9,456.9M25.1,459.8L24.8,462.3M23.2,461.7L23.3,464.7M22.9,464.0L24.9,465.2M24.0,466.9L22.1,469.3M25.1,469.7L27.3,471.0M38.2,458.2L40.8,454.9M40.8,458.6L43.0,462.3M43.3,458.9L45.7,461.6M44.3,460.5L46.1,463.4M43.8,463.4L47.0,466.0M43.2,466.3L44.8,467.8M42.2,422.0L42.8,424.7M44.5,423.1L46.9,421.2M46.9,424.3L46.9,426.7M24.2,401.7L25.6,399.1M22.5,399.0L24.2,396.6M20.8,396.3L18.6,395.9M19.0,393.8L20.4,390.9M17.0,391.2L17.4,388.1M82.8,408.0L84.9,406.5M83.5,405.3L81.9,401.3M84.2,402.5L81.6,399.9M84.9,399.8L88.0,397.9M85.6,397.1L83.2,394.5M85.7,394.2L87.9,391.1M85.2,391.2L81.7,390.3M84.8,388.2L86.6,384.7M84.3,385.2L87.5,383.2M83.5,382.6L84.0,380.0M82.4,380.3L79.6,379.3M81.3,378.0L78.3,376.8M86.0,396.8L85.0,392.6M88.0,394.3L87.5,391.5M90.0,391.8L88.5,387.8M91.2,389.1L89.5,387.5M91.6,386.1L93.5,384.7M92.1,383.1L95.6,382.2M92.5,380.1L89.4,377.6M89.1,404.3L90.6,401.0M92.1,404.3L94.0,401.1M95.1,404.3L97.0,402.3M98.1,404.3L100.8,406.3M101.3,404.3L102.7,401.6M104.8,404.3L106.2,402.5M108.2,404.3L109.3,402.4M95.5,402.9L98.0,401.6M96.5,400.7L99.6,398.9M97.4,398.5L96.4,394.6M99.3,396.8L101.2,393.9M102.2,395.7L104.7,396.6M105.0,394.6L106.4,390.8M91.0,419.7L92.5,421.3M94.4,419.7L96.3,416.3M97.9,419.7L99.2,417.1M101.3,419.7L102.2,417.9M104.4,420.0L106.0,423.3M107.3,420.5L110.3,417.9M110.2,421.1L112.0,419.9M87.8,426.6L84.7,423.5M84.8,426.6L83.0,429.8M81.8,426.6L80.4,428.3M78.8,426.6L77.5,425.1M76.5,427.5L77.7,430.8M74.8,429.1L72.5,429.2M94.4,438.9L97.1,437.5M97.8,439.5L99.5,442.1M101.3,440.0L102.6,441.6M104.2,441.2L107.0,440.6M106.8,443.1L110.0,443.1M89.9,448.0L90.8,451.4M87.8,449.7L87.1,452.5M85.6,451.4L81.9,450.0M83.5,453.1L83.2,457.2M82.4,455.4L78.3,457.3M82.4,458.3L80.7,459.9M82.4,461.2L78.4,462.8M97.3,453.8L96.7,457.6M99.9,455.3L99.5,458.9M102.5,456.8L102.2,459.0M105.1,458.3L108.8,457.5M107.3,460.0L107.1,462.4M109.0,461.7L108.9,465.8" stroke-width="1.8"/><path d="M34.0,404.0L34.3,390.6M28.0,443.5L22.3,445.4M91.0,447.1L82.4,454.0" stroke-width="2.3"/><path d="M34.3,390.6L37.7,380.3M20.6,430.0L8.6,426.6M13.7,455.7L12.0,466.0M84.1,383.7L80.7,376.9M12.0,404.3L10.1,407.0M12.0,404.3L8.4,403.4M37.7,380.3L36.8,377.2M37.7,380.3L40.9,377.9M29.1,382.0L25.9,380.3M29.1,382.0L29.5,379.0M8.6,426.6L5.3,427.7M8.6,426.6L6.9,424.6M10.3,435.1L8.8,437.8M10.3,435.1L7.1,434.7M12.0,466.0L13.3,468.8M12.0,466.0L9.7,468.4M25.7,471.1L28.1,472.7M25.7,471.1L25.0,474.4M42.9,467.7L44.2,470.8M42.9,467.7L40.9,469.7M48.0,424.9L51.0,424.5M48.0,424.9L49.6,427.9M16.0,390.0L13.1,389.1M16.0,390.0L15.8,386.9M80.7,376.9L77.3,375.0M80.7,376.9L81.2,373.2M92.7,378.6L91.1,375.3M92.7,378.6L94.8,376.3M109.9,404.3L112.9,402.2M109.9,404.3L112.5,406.1M106.4,394.0L107.9,391.7M106.4,394.0L110.1,394.8M111.6,421.4L115.1,419.9M111.6,421.4L114.3,424.2M73.9,430.0L73.3,433.4M73.9,430.0L70.1,430.7M108.0,444.0L111.5,444.1M108.0,444.0L109.3,447.7M82.4,462.6L84.4,465.5M82.4,462.6L81.0,464.7M109.9,462.6L113.6,463.3M109.9,462.6L110.4,465.1" stroke-width="1.7"/><path d="M34.3,392.0L29.1,382.0M22.3,445.4L13.7,455.7M28.0,457.0L22.3,462.6" stroke-width="2.0"/><path d="M28.0,429.0L20.6,430.0" stroke-width="2.2"/><path d="M20.6,430.0L10.3,435.1M41.1,421.4L48.0,424.9M25.0,403.0L20.0,395.0M95.0,404.0L97.9,397.4" stroke-width="1.9"/><path d="M36.0,442.0L28.0,443.5" stroke-width="2.6"/><path d="M36.9,452.3L28.0,457.0M87.6,404.3L99.6,404.3M89.3,419.7L103.0,419.7" stroke-width="2.4"/><path d="M22.3,462.6L25.7,471.1M44.6,459.1L42.9,467.7M91.0,390.6L92.7,378.6M99.6,404.3L109.9,404.3M103.0,419.7L111.6,421.4M82.4,454.0L82.4,462.6" stroke-width="1.6"/><path d="M20.0,395.0L16.0,390.0M97.9,397.4L106.4,394.0M77.3,426.6L73.9,430.0M103.0,440.3L108.0,444.0M106.4,459.1L109.9,462.6M44.0,402.6L42.0,401.6M38.9,408.5L38.3,410.7M38.2,401.7L36.6,400.9M34.7,407.6L35.0,408.9M33.1,402.5L31.7,402.0M30.5,405.8L30.7,407.9M25.7,405.6L25.4,407.9M24.2,400.7L22.6,400.3M20.8,405.1L20.4,407.3M19.4,399.7L19.8,398.5M17.6,405.0L16.7,407.0M11.8,401.2L10.9,400.0M11.8,406.1L10.3,406.8M30.9,400.0L30.7,398.7M32.0,396.5L32.2,394.8M32.3,393.6L30.2,393.6M36.5,391.4L37.9,390.0M37.8,387.0L39.6,387.4M39.3,384.4L39.7,382.8M35.1,380.6L33.1,379.5M36.2,378.9L34.7,378.3M30.5,391.0L29.2,390.1M33.2,385.4L32.9,383.1M27.8,385.4L26.3,384.3M30.4,379.3L32.0,378.0M34.5,426.1L35.1,424.6M31.7,430.4L30.3,431.1M27.7,425.8L27.7,423.8M23.6,426.6L23.5,424.2M23.1,431.6L21.3,431.9M20.3,433.4L21.0,435.7M17.4,426.6L17.7,425.4M13.3,431.0L12.5,432.9M10.4,431.4L10.1,432.7M9.7,423.8L8.6,422.6M17.8,434.6L18.3,437.0M13.8,429.6L13.7,427.7M10.9,432.5L10.1,431.1M9.1,432.7L8.7,431.3M34.0,445.7L32.2,446.8M29.0,441.2L26.6,441.4M25.9,440.5L25.0,438.2M23.0,442.0L21.5,442.2M21.2,443.3L21.0,441.7M19.2,447.1L18.0,446.7M19.9,451.1L19.6,452.9M17.1,454.5L18.2,455.6M11.6,454.1L10.3,454.6M10.9,458.7L9.7,458.4M9.6,463.0L8.8,464.3M10.2,465.2L8.7,466.7M32.1,450.7L31.3,448.5M32.6,457.8L33.3,458.8M26.2,454.6L25.9,453.3M22.9,456.9L21.9,455.5M24.8,462.3L26.0,464.0M23.3,464.7L24.9,466.0M24.9,465.2L26.2,464.8M22.1,469.3L22.3,471.1M27.3,471.0L29.4,470.6M40.8,454.9L41.1,453.6M43.0,462.3L42.5,463.6M45.7,461.6L45.5,463.5M46.1,463.4L45.7,464.9M47.0,466.0L47.2,467.4M44.8,467.8L46.1,468.2M42.8,424.7L44.2,425.8M46.9,421.2L47.0,419.9M46.9,426.7L46.1,427.9M25.6,399.1L27.8,398.4M24.2,396.6L24.0,394.7M18.6,395.9L17.2,396.4M20.4,390.9L21.8,389.7M17.4,388.1L16.9,386.8M84.9,406.5L87.0,406.9M81.9,401.3L82.7,399.9M81.6,399.9L81.7,398.5M88.0,397.9L89.2,396.1M83.2,394.5L83.1,393.0M87.9,391.1L89.3,390.4M81.7,390.3L80.9,389.0M86.6,384.7L87.7,384.0M87.5,383.2L87.8,381.4M84.0,380.0L82.9,378.0M79.6,379.3L78.5,377.2M78.3,376.8L77.3,375.6M85.0,392.6L83.7,391.9M87.5,391.5L88.3,390.0M88.5,387.8L89.4,385.6M89.5,387.5L88.8,385.4M93.5,384.7L94.1,382.7M95.6,382.2L97.7,382.6M89.4,377.6L89.4,376.3M90.6,401.0L90.2,399.3M94.0,401.1L95.9,399.8M97.0,402.3L97.5,400.3M100.8,406.3L102.1,406.5M102.7,401.6L104.7,401.1M106.2,402.5L106.3,401.3M109.3,402.4L109.1,401.0M98.0,401.6L98.7,400.0M99.6,398.9L100.5,396.6M96.4,394.6L97.1,393.3M101.2,393.9L102.8,393.5M104.7,396.6L106.5,396.2M106.4,390.8L105.9,389.2M92.5,421.3L93.1,423.4M96.3,416.3L98.5,415.5M99.2,417.1L99.3,415.1M102.2,417.9L101.8,416.1M106.0,423.3L105.1,425.4M110.3,417.9L111.5,418.1M112.0,419.9L112.4,418.0M84.7,423.5L84.9,422.0M83.0,429.8L80.9,430.2M80.4,428.3L80.0,430.8M77.5,425.1L77.1,423.0M77.7,430.8L77.2,433.0M72.5,429.2L71.2,428.5M97.1,437.5L97.8,436.4M99.5,442.1L100.9,442.7M102.6,441.6L104.4,442.2M107.0,440.6L108.2,438.9M110.0,443.1L111.9,441.9M90.8,451.4L90.1,452.4M87.1,452.5L86.1,453.2M81.9,450.0L79.6,450.9M83.2,457.2L83.9,458.7M78.3,457.3L77.0,459.3M80.7,459.9L79.6,460.2M78.4,462.8L77.1,464.9M96.7,457.6L97.8,458.9M99.5,458.9L100.4,460.2M102.2,459.0L101.3,460.4M108.8,457.5L109.8,456.5M107.1,462.4L105.9,463.4M108.9,465.8L109.9,466.7" stroke-width="1.5"/></g><g fill="none" stroke="#f3d6cc" stroke-linecap="round"><path d="M54.0,399.0L51.4,401.7M63.6,397.4L72.1,404.3" stroke-width="3.4"/><path d="M51.4,401.7L46.3,409.4M72.1,404.3L82.4,411.1" stroke-width="3.1"/><path d="M46.3,409.4L39.4,424.9M82.4,411.1L87.6,423.1" stroke-width="2.8"/><path d="M39.4,424.9L36.9,435.1M87.6,423.1L91.0,438.6" stroke-width="2.4"/><path d="M36.9,435.1L36.0,447.1M91.0,438.6L94.4,450.6" stroke-width="2.1"/><path d="M36.0,447.1L36.9,462.6M37.5,428.3L28.0,429.0M94.4,450.6L103.0,466.0" stroke-width="1.8"/><path d="M46.3,406.9L38.0,404.5" stroke-width="1.9"/><path d="M38.0,404.5L30.9,403.4M82.4,409.4L85.9,395.7" stroke-width="1.6"/><path d="M30.9,403.4L18.9,401.7M36.9,458.0L44.6,459.1M85.9,395.7L84.1,383.7M85.0,398.0L91.0,390.6M89.3,426.6L77.3,426.6M92.7,438.6L103.0,440.3M96.0,453.0L106.4,459.1" stroke-width="1.2"/><path d="M18.9,401.7L12.0,404.3M44.9,406.5L44.0,402.6M42.1,405.7L38.9,408.5M39.4,404.9L38.2,401.7M36.8,404.3L34.7,407.6M34.5,403.9L33.1,402.5M32.1,403.6L30.5,405.8M29.4,403.2L25.7,405.6M26.4,402.8L24.2,400.7M23.4,402.3L20.8,405.1M20.4,401.9L19.4,399.7M17.8,402.1L17.6,405.0M15.4,403.0L11.8,401.2M13.1,403.9L11.8,406.1M34.0,402.3L30.9,400.0M34.1,399.0L32.0,396.5M34.2,395.6L32.3,393.6M34.3,392.3L36.5,391.4M34.7,389.3L37.8,387.0M35.6,386.7L39.3,384.4M36.4,384.2L35.1,380.6M37.3,381.6L36.2,378.9M33.6,390.8L30.5,391.0M32.4,388.2L33.2,385.4M31.1,385.8L27.8,385.4M29.8,383.2L30.4,379.3M35.9,428.4L34.5,426.1M32.8,428.6L31.7,430.4M29.6,428.9L27.7,425.8M26.8,429.2L23.6,426.6M24.3,429.5L23.1,431.6M21.8,429.8L20.3,433.4M19.1,429.6L17.4,426.6M16.1,428.7L13.3,431.0M13.1,427.9L10.4,431.4M10.1,427.0L9.7,423.8M19.3,430.6L17.8,434.6M16.7,431.9L13.8,429.6M14.2,433.2L10.9,432.5M11.6,434.5L9.1,432.7M34.7,442.2L34.0,445.7M32.0,442.8L29.0,441.2M29.3,443.2L25.9,440.5M26.6,444.0L23.0,442.0M23.7,444.9L21.2,443.3M21.2,446.7L19.2,447.1M19.1,449.3L19.9,451.1M16.9,451.8L17.1,454.5M14.8,454.4L11.6,454.1M13.4,457.4L10.9,458.7M12.8,460.9L9.6,463.0M12.3,464.3L10.2,465.2M35.4,453.1L32.1,450.7M32.5,454.6L32.6,457.8M29.5,456.2L26.2,454.6M27.1,457.9L22.9,456.9M25.1,459.8L24.8,462.3M23.2,461.7L23.3,464.7M22.9,464.0L24.9,465.2M24.0,466.9L22.1,469.3M25.1,469.7L27.3,471.0M38.2,458.2L40.8,454.9M40.8,458.6L43.0,462.3M43.3,458.9L45.7,461.6M44.3,460.5L46.1,463.4M43.8,463.4L47.0,466.0M43.2,466.3L44.8,467.8M42.2,422.0L42.8,424.7M44.5,423.1L46.9,421.2M46.9,424.3L46.9,426.7M24.2,401.7L25.6,399.1M22.5,399.0L24.2,396.6M20.8,396.3L18.6,395.9M19.0,393.8L20.4,390.9M17.0,391.2L17.4,388.1M82.8,408.0L84.9,406.5M83.5,405.3L81.9,401.3M84.2,402.5L81.6,399.9M84.9,399.8L88.0,397.9M85.6,397.1L83.2,394.5M85.7,394.2L87.9,391.1M85.2,391.2L81.7,390.3M84.8,388.2L86.6,384.7M84.3,385.2L87.5,383.2M83.5,382.6L84.0,380.0M82.4,380.3L79.6,379.3M81.3,378.0L78.3,376.8M86.0,396.8L85.0,392.6M88.0,394.3L87.5,391.5M90.0,391.8L88.5,387.8M91.2,389.1L89.5,387.5M91.6,386.1L93.5,384.7M92.1,383.1L95.6,382.2M92.5,380.1L89.4,377.6M89.1,404.3L90.6,401.0M92.1,404.3L94.0,401.1M95.1,404.3L97.0,402.3M98.1,404.3L100.8,406.3M101.3,404.3L102.7,401.6M104.8,404.3L106.2,402.5M108.2,404.3L109.3,402.4M95.5,402.9L98.0,401.6M96.5,400.7L99.6,398.9M97.4,398.5L96.4,394.6M99.3,396.8L101.2,393.9M102.2,395.7L104.7,396.6M105.0,394.6L106.4,390.8M91.0,419.7L92.5,421.3M94.4,419.7L96.3,416.3M97.9,419.7L99.2,417.1M101.3,419.7L102.2,417.9M104.4,420.0L106.0,423.3M107.3,420.5L110.3,417.9M110.2,421.1L112.0,419.9M87.8,426.6L84.7,423.5M84.8,426.6L83.0,429.8M81.8,426.6L80.4,428.3M78.8,426.6L77.5,425.1M76.5,427.5L77.7,430.8M74.8,429.1L72.5,429.2M94.4,438.9L97.1,437.5M97.8,439.5L99.5,442.1M101.3,440.0L102.6,441.6M104.2,441.2L107.0,440.6M106.8,443.1L110.0,443.1M89.9,448.0L90.8,451.4M87.8,449.7L87.1,452.5M85.6,451.4L81.9,450.0M83.5,453.1L83.2,457.2M82.4,455.4L78.3,457.3M82.4,458.3L80.7,459.9M82.4,461.2L78.4,462.8M97.3,453.8L96.7,457.6M99.9,455.3L99.5,458.9M102.5,456.8L102.2,459.0M105.1,458.3L108.8,457.5M107.3,460.0L107.1,462.4M109.0,461.7L108.9,465.8" stroke-width="0.9"/><path d="M34.0,404.0L34.3,390.6M28.0,443.5L22.3,445.4M91.0,447.1L82.4,454.0" stroke-width="1.4"/><path d="M34.3,390.6L37.7,380.3M20.6,430.0L8.6,426.6M13.7,455.7L12.0,466.0M84.1,383.7L80.7,376.9M12.0,404.3L10.1,407.0M12.0,404.3L8.4,403.4M37.7,380.3L36.8,377.2M37.7,380.3L40.9,377.9M29.1,382.0L25.9,380.3M29.1,382.0L29.5,379.0M8.6,426.6L5.3,427.7M8.6,426.6L6.9,424.6M10.3,435.1L8.8,437.8M10.3,435.1L7.1,434.7M12.0,466.0L13.3,468.8M12.0,466.0L9.7,468.4M25.7,471.1L28.1,472.7M25.7,471.1L25.0,474.4M42.9,467.7L44.2,470.8M42.9,467.7L40.9,469.7M48.0,424.9L51.0,424.5M48.0,424.9L49.6,427.9M16.0,390.0L13.1,389.1M16.0,390.0L15.8,386.9M80.7,376.9L77.3,375.0M80.7,376.9L81.2,373.2M92.7,378.6L91.1,375.3M92.7,378.6L94.8,376.3M109.9,404.3L112.9,402.2M109.9,404.3L112.5,406.1M106.4,394.0L107.9,391.7M106.4,394.0L110.1,394.8M111.6,421.4L115.1,419.9M111.6,421.4L114.3,424.2M73.9,430.0L73.3,433.4M73.9,430.0L70.1,430.7M108.0,444.0L111.5,444.1M108.0,444.0L109.3,447.7M82.4,462.6L84.4,465.5M82.4,462.6L81.0,464.7M109.9,462.6L113.6,463.3M109.9,462.6L110.4,465.1" stroke-width="0.8"/><path d="M34.3,392.0L29.1,382.0M22.3,445.4L13.7,455.7M28.0,457.0L22.3,462.6" stroke-width="1.1"/><path d="M28.0,429.0L20.6,430.0" stroke-width="1.3"/><path d="M20.6,430.0L10.3,435.1M41.1,421.4L48.0,424.9M25.0,403.0L20.0,395.0M95.0,404.0L97.9,397.4" stroke-width="1.0"/><path d="M36.0,442.0L28.0,443.5" stroke-width="1.7"/><path d="M36.9,452.3L28.0,457.0M87.6,404.3L99.6,404.3M89.3,419.7L103.0,419.7" stroke-width="1.5"/><path d="M22.3,462.6L25.7,471.1M44.6,459.1L42.9,467.7M91.0,390.6L92.7,378.6M99.6,404.3L109.9,404.3M103.0,419.7L111.6,421.4M82.4,454.0L82.4,462.6" stroke-width="0.7"/><path d="M20.0,395.0L16.0,390.0M97.9,397.4L106.4,394.0M77.3,426.6L73.9,430.0M103.0,440.3L108.0,444.0M106.4,459.1L109.9,462.6M44.0,402.6L42.0,401.6M38.9,408.5L38.3,410.7M38.2,401.7L36.6,400.9M34.7,407.6L35.0,408.9M33.1,402.5L31.7,402.0M30.5,405.8L30.7,407.9M25.7,405.6L25.4,407.9M24.2,400.7L22.6,400.3M20.8,405.1L20.4,407.3M19.4,399.7L19.8,398.5M17.6,405.0L16.7,407.0M11.8,401.2L10.9,400.0M11.8,406.1L10.3,406.8M30.9,400.0L30.7,398.7M32.0,396.5L32.2,394.8M32.3,393.6L30.2,393.6M36.5,391.4L37.9,390.0M37.8,387.0L39.6,387.4M39.3,384.4L39.7,382.8M35.1,380.6L33.1,379.5M36.2,378.9L34.7,378.3M30.5,391.0L29.2,390.1M33.2,385.4L32.9,383.1M27.8,385.4L26.3,384.3M30.4,379.3L32.0,378.0M34.5,426.1L35.1,424.6M31.7,430.4L30.3,431.1M27.7,425.8L27.7,423.8M23.6,426.6L23.5,424.2M23.1,431.6L21.3,431.9M20.3,433.4L21.0,435.7M17.4,426.6L17.7,425.4M13.3,431.0L12.5,432.9M10.4,431.4L10.1,432.7M9.7,423.8L8.6,422.6M17.8,434.6L18.3,437.0M13.8,429.6L13.7,427.7M10.9,432.5L10.1,431.1M9.1,432.7L8.7,431.3M34.0,445.7L32.2,446.8M29.0,441.2L26.6,441.4M25.9,440.5L25.0,438.2M23.0,442.0L21.5,442.2M21.2,443.3L21.0,441.7M19.2,447.1L18.0,446.7M19.9,451.1L19.6,452.9M17.1,454.5L18.2,455.6M11.6,454.1L10.3,454.6M10.9,458.7L9.7,458.4M9.6,463.0L8.8,464.3M10.2,465.2L8.7,466.7M32.1,450.7L31.3,448.5M32.6,457.8L33.3,458.8M26.2,454.6L25.9,453.3M22.9,456.9L21.9,455.5M24.8,462.3L26.0,464.0M23.3,464.7L24.9,466.0M24.9,465.2L26.2,464.8M22.1,469.3L22.3,471.1M27.3,471.0L29.4,470.6M40.8,454.9L41.1,453.6M43.0,462.3L42.5,463.6M45.7,461.6L45.5,463.5M46.1,463.4L45.7,464.9M47.0,466.0L47.2,467.4M44.8,467.8L46.1,468.2M42.8,424.7L44.2,425.8M46.9,421.2L47.0,419.9M46.9,426.7L46.1,427.9M25.6,399.1L27.8,398.4M24.2,396.6L24.0,394.7M18.6,395.9L17.2,396.4M20.4,390.9L21.8,389.7M17.4,388.1L16.9,386.8M84.9,406.5L87.0,406.9M81.9,401.3L82.7,399.9M81.6,399.9L81.7,398.5M88.0,397.9L89.2,396.1M83.2,394.5L83.1,393.0M87.9,391.1L89.3,390.4M81.7,390.3L80.9,389.0M86.6,384.7L87.7,384.0M87.5,383.2L87.8,381.4M84.0,380.0L82.9,378.0M79.6,379.3L78.5,377.2M78.3,376.8L77.3,375.6M85.0,392.6L83.7,391.9M87.5,391.5L88.3,390.0M88.5,387.8L89.4,385.6M89.5,387.5L88.8,385.4M93.5,384.7L94.1,382.7M95.6,382.2L97.7,382.6M89.4,377.6L89.4,376.3M90.6,401.0L90.2,399.3M94.0,401.1L95.9,399.8M97.0,402.3L97.5,400.3M100.8,406.3L102.1,406.5M102.7,401.6L104.7,401.1M106.2,402.5L106.3,401.3M109.3,402.4L109.1,401.0M98.0,401.6L98.7,400.0M99.6,398.9L100.5,396.6M96.4,394.6L97.1,393.3M101.2,393.9L102.8,393.5M104.7,396.6L106.5,396.2M106.4,390.8L105.9,389.2M92.5,421.3L93.1,423.4M96.3,416.3L98.5,415.5M99.2,417.1L99.3,415.1M102.2,417.9L101.8,416.1M106.0,423.3L105.1,425.4M110.3,417.9L111.5,418.1M112.0,419.9L112.4,418.0M84.7,423.5L84.9,422.0M83.0,429.8L80.9,430.2M80.4,428.3L80.0,430.8M77.5,425.1L77.1,423.0M77.7,430.8L77.2,433.0M72.5,429.2L71.2,428.5M97.1,437.5L97.8,436.4M99.5,442.1L100.9,442.7M102.6,441.6L104.4,442.2M107.0,440.6L108.2,438.9M110.0,443.1L111.9,441.9M90.8,451.4L90.1,452.4M87.1,452.5L86.1,453.2M81.9,450.0L79.6,450.9M83.2,457.2L83.9,458.7M78.3,457.3L77.0,459.3M80.7,459.9L79.6,460.2M78.4,462.8L77.1,464.9M96.7,457.6L97.8,458.9M99.5,458.9L100.4,460.2M102.2,459.0L101.3,460.4M108.8,457.5L109.8,456.5M107.1,462.4L105.9,463.4M108.9,465.8L109.9,466.7" stroke-width="0.6"/></g><g fill="#7a6e68"><circle cx="42.0" cy="401.6" r="0.9"/><circle cx="38.3" cy="410.7" r="0.5"/><circle cx="35.0" cy="408.9" r="0.8"/><circle cx="31.7" cy="402.0" r="0.7"/><circle cx="25.4" cy="407.9" r="0.8"/><circle cx="22.6" cy="400.3" r="0.5"/><circle cx="20.4" cy="407.3" r="0.8"/><circle cx="19.8" cy="398.5" r="0.8"/><circle cx="10.9" cy="400.0" r="0.7"/><circle cx="10.3" cy="406.8" r="0.6"/><circle cx="30.7" cy="398.7" r="0.8"/><circle cx="32.2" cy="394.8" r="0.8"/><circle cx="30.2" cy="393.6" r="0.9"/><circle cx="37.9" cy="390.0" r="0.8"/><circle cx="39.6" cy="387.4" r="0.6"/><circle cx="39.7" cy="382.8" r="0.6"/><circle cx="33.1" cy="379.5" r="0.5"/><circle cx="34.7" cy="378.3" r="0.7"/><circle cx="29.2" cy="390.1" r="0.6"/><circle cx="32.9" cy="383.1" r="0.5"/><circle cx="26.3" cy="384.3" r="0.8"/><circle cx="32.0" cy="378.0" r="0.5"/><circle cx="35.1" cy="424.6" r="0.5"/><circle cx="30.3" cy="431.1" r="0.6"/><circle cx="27.7" cy="423.8" r="0.8"/><circle cx="23.5" cy="424.2" r="0.6"/><circle cx="21.3" cy="431.9" r="0.7"/><circle cx="21.0" cy="435.7" r="0.6"/><circle cx="17.7" cy="425.4" r="0.5"/><circle cx="12.5" cy="432.9" r="0.5"/><circle cx="10.1" cy="432.7" r="0.8"/><circle cx="8.6" cy="422.6" r="0.6"/><circle cx="18.3" cy="437.0" r="0.9"/><circle cx="13.7" cy="427.7" r="0.7"/><circle cx="10.1" cy="431.1" r="0.5"/><circle cx="8.7" cy="431.3" r="0.6"/><circle cx="26.6" cy="441.4" r="0.7"/><circle cx="25.0" cy="438.2" r="0.9"/><circle cx="21.5" cy="442.2" r="0.5"/><circle cx="21.0" cy="441.7" r="0.7"/><circle cx="18.0" cy="446.7" r="0.8"/><circle cx="19.6" cy="452.9" r="0.5"/><circle cx="18.2" cy="455.6" r="0.6"/><circle cx="10.3" cy="454.6" r="0.6"/><circle cx="9.7" cy="458.4" r="0.8"/><circle cx="8.8" cy="464.3" r="0.8"/><circle cx="8.7" cy="466.7" r="0.8"/><circle cx="31.3" cy="448.5" r="0.7"/><circle cx="33.3" cy="458.8" r="0.5"/><circle cx="21.9" cy="455.5" r="0.6"/><circle cx="26.0" cy="464.0" r="0.7"/><circle cx="24.9" cy="466.0" r="0.7"/><circle cx="26.2" cy="464.8" r="0.7"/><circle cx="22.3" cy="471.1" r="0.8"/><circle cx="29.4" cy="470.6" r="0.6"/><circle cx="41.1" cy="453.6" r="0.5"/><circle cx="42.5" cy="463.6" r="0.8"/><circle cx="45.5" cy="463.5" r="0.7"/><circle cx="45.7" cy="464.9" r="0.5"/><circle cx="47.2" cy="467.4" r="0.7"/><circle cx="46.1" cy="468.2" r="0.5"/><circle cx="44.2" cy="425.8" r="0.5"/><circle cx="47.0" cy="419.9" r="0.6"/><circle cx="46.1" cy="427.9" r="0.8"/><circle cx="27.8" cy="398.4" r="0.6"/><circle cx="24.0" cy="394.7" r="0.6"/><circle cx="17.2" cy="396.4" r="0.6"/><circle cx="21.8" cy="389.7" r="0.8"/><circle cx="16.9" cy="386.8" r="0.7"/><circle cx="87.0" cy="406.9" r="0.9"/><circle cx="82.7" cy="399.9" r="0.7"/><circle cx="81.7" cy="398.5" r="0.9"/><circle cx="89.2" cy="396.1" r="0.5"/><circle cx="83.1" cy="393.0" r="0.8"/><circle cx="89.3" cy="390.4" r="0.8"/><circle cx="80.9" cy="389.0" r="0.5"/><circle cx="87.7" cy="384.0" r="0.7"/><circle cx="87.8" cy="381.4" r="0.7"/><circle cx="82.9" cy="378.0" r="0.7"/><circle cx="78.5" cy="377.2" r="0.8"/><circle cx="77.3" cy="375.6" r="0.7"/><circle cx="83.7" cy="391.9" r="0.8"/><circle cx="88.3" cy="390.0" r="0.7"/><circle cx="89.4" cy="385.6" r="0.8"/><circle cx="94.1" cy="382.7" r="0.6"/><circle cx="97.7" cy="382.6" r="0.6"/><circle cx="89.4" cy="376.3" r="0.6"/><circle cx="90.2" cy="399.3" r="0.6"/><circle cx="95.9" cy="399.8" r="0.7"/><circle cx="97.5" cy="400.3" r="0.8"/><circle cx="104.7" cy="401.1" r="0.7"/><circle cx="106.3" cy="401.3" r="0.6"/><circle cx="98.7" cy="400.0" r="0.7"/><circle cx="100.5" cy="396.6" r="0.7"/><circle cx="97.1" cy="393.3" r="0.9"/><circle cx="102.8" cy="393.5" r="0.7"/><circle cx="105.9" cy="389.2" r="0.5"/><circle cx="93.1" cy="423.4" r="0.7"/><circle cx="98.5" cy="415.5" r="0.9"/><circle cx="99.3" cy="415.1" r="0.6"/><circle cx="101.8" cy="416.1" r="0.7"/><circle cx="105.1" cy="425.4" r="0.6"/><circle cx="111.5" cy="418.1" r="0.6"/><circle cx="112.4" cy="418.0" r="0.8"/><circle cx="84.9" cy="422.0" r="0.7"/><circle cx="80.9" cy="430.2" r="0.5"/><circle cx="80.0" cy="430.8" r="0.8"/><circle cx="77.1" cy="423.0" r="0.5"/><circle cx="77.2" cy="433.0" r="0.6"/><circle cx="71.2" cy="428.5" r="0.6"/><circle cx="97.8" cy="436.4" r="0.7"/><circle cx="100.9" cy="442.7" r="0.6"/><circle cx="104.4" cy="442.2" r="0.5"/><circle cx="108.2" cy="438.9" r="0.9"/><circle cx="111.9" cy="441.9" r="0.6"/><circle cx="90.1" cy="452.4" r="0.9"/><circle cx="86.1" cy="453.2" r="0.5"/><circle cx="79.6" cy="450.9" r="0.5"/><circle cx="83.9" cy="458.7" r="0.8"/><circle cx="79.6" cy="460.2" r="0.7"/><circle cx="77.1" cy="464.9" r="0.7"/><circle cx="100.4" cy="460.2" r="0.8"/><circle cx="101.3" cy="460.4" r="0.6"/><circle cx="109.8" cy="456.5" r="0.5"/><circle cx="105.9" cy="463.4" r="0.6"/><circle cx="109.9" cy="466.7" r="0.7"/></g>
<path fill="#c3d4e4" stroke="#72869a" stroke-width="0.8" stroke-dasharray="1.4,0.7" d="M54.5,351.5 L63.5,351.5 L63.5,394 C64,397 65,399 66.5,401 L51.5,401 C53,399 54.5,397 54.5,394 Z"/>
<g fill="none" stroke="#7d90a4" stroke-width="0.8">
<path d="M54,356.5 H63.8 M54,360.7 H63.8 M54,364.9 H63.8 M54,369.1 H63.8 M54,373.3 H63.8 M54,377.5 H63.8 M54,381.7 H63.8 M54,385.9 H63.8 M54,390.1 H63.8 M53,394.3 H65"/>
</g>
<g fill="#d9e4ee"><rect x="55.5" y="353.5" width="3" height="40" opacity="0.5"/></g>
</g>

<g fill="#1670c2">
<path d="M265.5,244.0 L261.9,181.2 L256.7,181.2 L265.9,153.7 L275.7,181.2 L270.5,181.2Z"/>
<path d="M217.5,261.6 L184.3,208.4 L188.1,205.7 L164.6,188.8 L173.4,216.0 L177.2,213.3Z"/>
<path d="M307.9,255.6 L341.5,203.4 L337.6,200.7 L361.2,183.8 L352.4,211.0 L348.5,208.3Z"/>
<path d="M191.4,304.1 L132.7,280.8 L134.1,276.5 L105.0,276.8 L128.6,293.2 L130.0,288.9Z"/>
<path d="M340.9,304.1 L399.8,280.8 L398.2,276.5 L427.3,276.8 L404.5,293.2 L402.9,288.9Z"/>
<path d="M196.4,355.5 L135.2,371.1 L133.6,366.9 L110.9,383.3 L140.0,383.3 L138.4,379.1Z"/>
<path d="M336.4,355.5 L395.9,370.9 L397.3,366.4 L421.8,383.6 L391.8,383.6 L393.2,379.1Z"/>
<path d="M225.6,386.0 L185.7,435.0 L181.9,432.4 L172.4,460.0 L196.6,442.6 L192.8,440.0Z"/>
<path d="M265.8,400.6 L261.4,461.9 L256.3,461.9 L266.2,488.0 L275.1,461.9 L270.0,461.9Z"/>
<path d="M308.2,386.0 L341.8,439.9 L337.6,442.6 L361.2,459.1 L353.1,432.4 L348.9,435.1Z"/>
</g>
<g>
<text x="249.6" y="147.9">Bone</text>
<text x="111.4" y="182.4">Cartilage</text>
<text x="366.4" y="207.1">Adipose</text>
<text x="47.5" y="330.7">Skin</text>
<text x="483.2" y="334.1">Muscle</text>
<text x="499.9" y="451.0">Nerve</text>
<text x="38.5" y="490.0">Trachea</text>
<text x="130.2" y="534.4">Cornea</text>
<text x="255.8" y="604.4">Liver</text>
<text x="374.4" y="565.5">Myocardium</text>
<text x="197.4" y="346.8">Multiple differentiation</text>
<text x="211.0" y="362.7">potential of MSCs</text>

</g>
</svg>
</body></html>
